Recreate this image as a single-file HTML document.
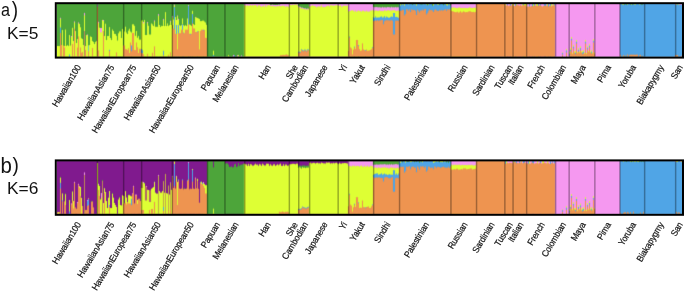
<!DOCTYPE html>
<html><head><meta charset="utf-8"><style>
html,body{margin:0;padding:0;background:#fff;width:685px;height:291px;overflow:hidden;}
svg{display:block;font-family:"Liberation Sans",sans-serif;}
text{-webkit-font-smoothing:antialiased;}
svg{will-change:transform;}
</style></head><body>
<svg width="685" height="291" viewBox="0 0 685 291" >
<g id="ba"><g fill="#50a5e6">
<rect x="399" y="3.9" width="1" height="52.8"/>
<rect x="403" y="3.9" width="1" height="52.8"/>
<rect x="405" y="3.9" width="3" height="52.8"/>
<rect x="409" y="3.9" width="3" height="52.8"/>
<rect x="413" y="3.9" width="1" height="52.8"/>
<rect x="415" y="3.9" width="1" height="52.8"/>
<rect x="417" y="3.9" width="3" height="52.8"/>
<rect x="424" y="3.9" width="2" height="52.8"/>
<rect x="429" y="3.9" width="3" height="52.8"/>
<rect x="434" y="3.9" width="3" height="52.8"/>
<rect x="440" y="3.9" width="3" height="52.8"/>
<rect x="444" y="3.9" width="2" height="52.8"/>
<rect x="448" y="3.9" width="1" height="52.8"/>
<rect x="507" y="3.9" width="1" height="52.8"/>
<rect x="510" y="3.9" width="1" height="52.8"/>
<rect x="515" y="3.9" width="1" height="52.8"/>
<rect x="523" y="3.9" width="1" height="52.8"/>
<rect x="529" y="3.9" width="1" height="52.8"/>
<rect x="532" y="3.9" width="1" height="52.8"/>
<rect x="534" y="3.9" width="1" height="52.8"/>
<rect x="538" y="3.9" width="1" height="52.8"/>
<rect x="540" y="3.9" width="1" height="52.8"/>
<rect x="544" y="3.9" width="2" height="52.8"/>
<rect x="548" y="3.9" width="1" height="52.8"/>
<rect x="550" y="3.9" width="1" height="52.8"/>
<rect x="554" y="3.9" width="1" height="52.8"/>
<rect x="620" y="3.9" width="2" height="52.8"/>
<rect x="625" y="3.9" width="1" height="52.8"/>
<rect x="628" y="3.9" width="2" height="52.8"/>
<rect x="633" y="3.9" width="1" height="52.8"/>
<rect x="636" y="3.9" width="3" height="52.8"/>
<rect x="640" y="3.9" width="1" height="52.8"/>
<rect x="643" y="3.9" width="32" height="52.8"/>
<rect x="677" y="3.9" width="1" height="52.8"/>
</g>
<g fill="#4da53a">
<rect x="57" y="3.9" width="40" height="52.8"/>
<rect x="98" y="3.9" width="146" height="52.8"/>
<rect x="270" y="3.9" width="10" height="52.8"/>
<rect x="298" y="3.9" width="11" height="52.8"/>
<rect x="373" y="3.9" width="26" height="52.8"/>
<rect x="401" y="3.9" width="1" height="52.8"/>
<rect x="412" y="3.9" width="1" height="52.8"/>
<rect x="420" y="3.9" width="3" height="52.8"/>
<rect x="427" y="3.9" width="1" height="52.8"/>
<rect x="432" y="3.9" width="1" height="52.8"/>
<rect x="439" y="3.9" width="1" height="52.8"/>
<rect x="443" y="3.9" width="1" height="52.8"/>
<rect x="450" y="3.9" width="1" height="52.8"/>
<rect x="624" y="3.9" width="1" height="52.8"/>
<rect x="626" y="3.9" width="1" height="52.8"/>
<rect x="630" y="3.9" width="1" height="52.8"/>
<rect x="632" y="3.9" width="1" height="52.8"/>
<rect x="641" y="3.9" width="2" height="52.8"/>
</g>
<g fill="#ee9450">
<rect x="476" y="3.9" width="29" height="52.8"/>
</g>
<g fill="#f598f0">
<rect x="244" y="3.9" width="26" height="52.8"/>
<rect x="280" y="3.9" width="18" height="52.8"/>
<rect x="309" y="3.9" width="64" height="52.8"/>
<rect x="451" y="3.9" width="25" height="52.8"/>
<rect x="506" y="3.9" width="1" height="52.8"/>
<rect x="508" y="3.9" width="2" height="52.8"/>
<rect x="511" y="3.9" width="1" height="52.8"/>
<rect x="514" y="3.9" width="1" height="52.8"/>
<rect x="517" y="3.9" width="5" height="52.8"/>
<rect x="527" y="3.9" width="2" height="52.8"/>
<rect x="530" y="3.9" width="2" height="52.8"/>
<rect x="535" y="3.9" width="1" height="52.8"/>
<rect x="539" y="3.9" width="1" height="52.8"/>
<rect x="541" y="3.9" width="3" height="52.8"/>
<rect x="546" y="3.9" width="1" height="52.8"/>
<rect x="549" y="3.9" width="1" height="52.8"/>
<rect x="552" y="3.9" width="1" height="52.8"/>
<rect x="555" y="3.9" width="65" height="52.8"/>
<rect x="675" y="3.9" width="1" height="52.8"/>
<rect x="679" y="3.9" width="3" height="52.8"/>
</g>
<g fill="#b77fc0">
<rect x="97" y="3.9" width="1" height="52.8"/>
</g>
<g fill="#deff34">
<rect x="400" y="3.9" width="1" height="52.8"/>
<rect x="402" y="3.9" width="1" height="52.8"/>
<rect x="404" y="3.9" width="1" height="52.8"/>
<rect x="408" y="3.9" width="1" height="52.8"/>
<rect x="414" y="3.9" width="1" height="52.8"/>
<rect x="416" y="3.9" width="1" height="52.8"/>
<rect x="423" y="3.9" width="1" height="52.8"/>
<rect x="426" y="3.9" width="1" height="52.8"/>
<rect x="428" y="3.9" width="1" height="52.8"/>
<rect x="433" y="3.9" width="1" height="52.8"/>
<rect x="437" y="3.9" width="2" height="52.8"/>
<rect x="446" y="3.9" width="2" height="52.8"/>
<rect x="449" y="3.9" width="1" height="52.8"/>
<rect x="505" y="3.9" width="1" height="52.8"/>
<rect x="512" y="3.9" width="2" height="52.8"/>
<rect x="516" y="3.9" width="1" height="52.8"/>
<rect x="522" y="3.9" width="1" height="52.8"/>
<rect x="524" y="3.9" width="3" height="52.8"/>
<rect x="533" y="3.9" width="1" height="52.8"/>
<rect x="536" y="3.9" width="2" height="52.8"/>
<rect x="547" y="3.9" width="1" height="52.8"/>
<rect x="551" y="3.9" width="1" height="52.8"/>
<rect x="553" y="3.9" width="1" height="52.8"/>
<rect x="622" y="3.9" width="2" height="52.8"/>
<rect x="627" y="3.9" width="1" height="52.8"/>
<rect x="631" y="3.9" width="1" height="52.8"/>
<rect x="634" y="3.9" width="2" height="52.8"/>
<rect x="639" y="3.9" width="1" height="52.8"/>
<rect x="676" y="3.9" width="1" height="52.8"/>
<rect x="678" y="3.9" width="1" height="52.8"/>
</g>
<g fill="#50a5e6">
<rect x="422" y="4.2" width="1" height="52.5"/>
<rect x="440" y="4.2" width="1" height="52.5"/>
<rect x="448" y="4.2" width="1" height="52.5"/>
<rect x="414" y="4.3" width="1" height="52.4"/>
<rect x="420" y="4.3" width="1" height="52.4"/>
<rect x="423" y="4.3" width="1" height="52.4"/>
<rect x="441" y="4.3" width="1" height="52.4"/>
<rect x="401" y="4.4" width="1" height="52.3"/>
<rect x="415" y="4.4" width="1" height="52.3"/>
<rect x="417" y="4.4" width="1" height="52.3"/>
<rect x="403" y="4.5" width="1" height="52.2"/>
<rect x="408" y="4.5" width="1" height="52.2"/>
<rect x="410" y="4.5" width="1" height="52.2"/>
<rect x="421" y="4.5" width="1" height="52.2"/>
<rect x="430" y="4.5" width="2" height="52.2"/>
<rect x="444" y="4.5" width="1" height="52.2"/>
<rect x="426" y="4.6" width="1" height="52.1"/>
<rect x="428" y="4.6" width="1" height="52.1"/>
<rect x="434" y="4.6" width="1" height="52.1"/>
<rect x="449" y="4.6" width="1" height="52.1"/>
<rect x="620" y="4.6" width="24" height="52.1"/>
<rect x="402" y="4.7" width="1" height="52"/>
<rect x="429" y="4.7" width="1" height="52"/>
<rect x="437" y="4.7" width="2" height="52"/>
<rect x="411" y="4.8" width="1" height="51.9"/>
<rect x="439" y="4.8" width="1" height="51.9"/>
<rect x="445" y="4.8" width="1" height="51.9"/>
<rect x="675" y="4.8" width="7" height="51.9"/>
<rect x="409" y="4.9" width="1" height="51.8"/>
<rect x="412" y="4.9" width="1" height="51.8"/>
<rect x="413" y="5" width="1" height="51.7"/>
<rect x="419" y="5.1" width="1" height="51.6"/>
<rect x="436" y="5.1" width="1" height="51.6"/>
<rect x="446" y="5.1" width="1" height="51.6"/>
<rect x="405" y="5.2" width="1" height="51.5"/>
<rect x="418" y="5.3" width="1" height="51.4"/>
<rect x="427" y="5.3" width="1" height="51.4"/>
<rect x="442" y="5.3" width="2" height="51.4"/>
<rect x="433" y="5.4" width="1" height="51.3"/>
<rect x="450" y="5.4" width="1" height="51.3"/>
<rect x="435" y="5.5" width="1" height="51.2"/>
<rect x="400" y="5.6" width="1" height="51.1"/>
<rect x="404" y="5.6" width="1" height="51.1"/>
<rect x="406" y="5.6" width="1" height="51.1"/>
<rect x="416" y="5.6" width="1" height="51.1"/>
<rect x="424" y="5.6" width="1" height="51.1"/>
<rect x="447" y="5.6" width="1" height="51.1"/>
<rect x="399" y="5.7" width="1" height="51"/>
<rect x="407" y="5.7" width="1" height="51"/>
<rect x="425" y="5.8" width="1" height="50.9"/>
<rect x="432" y="5.8" width="1" height="50.9"/>
<rect x="234" y="55.3" width="1" height="1.4"/>
</g>
<g fill="#ee9450">
<rect x="525" y="4.9" width="1" height="51.8"/>
<rect x="507" y="5" width="1" height="51.7"/>
<rect x="512" y="5" width="1" height="51.7"/>
<rect x="516" y="5" width="1" height="51.7"/>
<rect x="520" y="5" width="1" height="51.7"/>
<rect x="523" y="5" width="1" height="51.7"/>
<rect x="517" y="5.2" width="2" height="51.5"/>
<rect x="524" y="5.3" width="1" height="51.4"/>
<rect x="540" y="5.3" width="1" height="51.4"/>
<rect x="554" y="5.3" width="1" height="51.4"/>
<rect x="505" y="5.4" width="1" height="51.3"/>
<rect x="539" y="5.4" width="1" height="51.3"/>
<rect x="553" y="5.4" width="1" height="51.3"/>
<rect x="509" y="5.5" width="1" height="51.2"/>
<rect x="511" y="5.5" width="1" height="51.2"/>
<rect x="534" y="5.5" width="1" height="51.2"/>
<rect x="506" y="5.6" width="1" height="51.1"/>
<rect x="522" y="5.6" width="1" height="51.1"/>
<rect x="536" y="5.6" width="1" height="51.1"/>
<rect x="544" y="5.6" width="1" height="51.1"/>
<rect x="547" y="5.6" width="1" height="51.1"/>
<rect x="552" y="5.6" width="1" height="51.1"/>
<rect x="510" y="5.7" width="1" height="51"/>
<rect x="515" y="5.7" width="1" height="51"/>
<rect x="535" y="5.7" width="1" height="51"/>
<rect x="538" y="5.7" width="1" height="51"/>
<rect x="545" y="5.7" width="2" height="51"/>
<rect x="519" y="5.8" width="1" height="50.9"/>
<rect x="537" y="5.8" width="1" height="50.9"/>
<rect x="549" y="5.8" width="2" height="50.9"/>
<rect x="513" y="5.9" width="1" height="50.8"/>
<rect x="521" y="5.9" width="1" height="50.8"/>
<rect x="531" y="5.9" width="1" height="50.8"/>
<rect x="543" y="5.9" width="1" height="50.8"/>
<rect x="533" y="6" width="1" height="50.7"/>
<rect x="508" y="6.1" width="1" height="50.6"/>
<rect x="514" y="6.1" width="1" height="50.6"/>
<rect x="541" y="6.1" width="1" height="50.6"/>
<rect x="532" y="6.2" width="1" height="50.5"/>
<rect x="529" y="6.4" width="1" height="50.3"/>
<rect x="551" y="6.4" width="1" height="50.3"/>
<rect x="526" y="6.5" width="1" height="50.2"/>
<rect x="527" y="6.6" width="1" height="50.1"/>
<rect x="548" y="6.6" width="1" height="50.1"/>
<rect x="528" y="6.7" width="1" height="50"/>
<rect x="530" y="6.7" width="1" height="50"/>
<rect x="542" y="6.7" width="1" height="50"/>
<rect x="97" y="6.8" width="1" height="49.9"/>
<rect x="61" y="45" width="1" height="11.7"/>
<rect x="123" y="45.4" width="1" height="11.3"/>
<rect x="63" y="45.5" width="1" height="11.2"/>
</g>
<g fill="#f598f0">
<rect x="272" y="4.4" width="1" height="52.3"/>
<rect x="278" y="4.4" width="1" height="52.3"/>
<rect x="174" y="4.5" width="1" height="52.2"/>
<rect x="279" y="4.7" width="1" height="52"/>
<rect x="271" y="4.8" width="1" height="51.9"/>
<rect x="273" y="4.8" width="2" height="51.9"/>
<rect x="276" y="4.8" width="1" height="51.9"/>
<rect x="275" y="4.9" width="1" height="51.8"/>
<rect x="277" y="4.9" width="1" height="51.8"/>
<rect x="188" y="5" width="1" height="51.7"/>
<rect x="270" y="5" width="1" height="51.7"/>
<rect x="298" y="6.2" width="1" height="50.5"/>
<rect x="299" y="6.5" width="1" height="50.2"/>
<rect x="391" y="6.8" width="1" height="49.9"/>
<rect x="300" y="6.9" width="1" height="49.8"/>
<rect x="382" y="6.9" width="1" height="49.8"/>
<rect x="373" y="7" width="1" height="49.7"/>
<rect x="376" y="7" width="1" height="49.7"/>
<rect x="387" y="7" width="1" height="49.7"/>
<rect x="395" y="7" width="1" height="49.7"/>
<rect x="375" y="7.1" width="1" height="49.6"/>
<rect x="388" y="7.1" width="1" height="49.6"/>
<rect x="374" y="7.2" width="1" height="49.5"/>
<rect x="377" y="7.2" width="1" height="49.5"/>
<rect x="379" y="7.2" width="1" height="49.5"/>
<rect x="384" y="7.2" width="1" height="49.5"/>
<rect x="389" y="7.2" width="1" height="49.5"/>
<rect x="393" y="7.2" width="1" height="49.5"/>
<rect x="397" y="7.2" width="2" height="49.5"/>
<rect x="378" y="7.3" width="1" height="49.4"/>
<rect x="385" y="7.3" width="1" height="49.4"/>
<rect x="380" y="7.4" width="1" height="49.3"/>
<rect x="392" y="7.4" width="1" height="49.3"/>
<rect x="394" y="7.4" width="1" height="49.3"/>
<rect x="396" y="7.4" width="1" height="49.3"/>
<rect x="302" y="7.5" width="1" height="49.2"/>
<rect x="383" y="7.5" width="1" height="49.2"/>
<rect x="386" y="7.5" width="1" height="49.2"/>
<rect x="390" y="7.5" width="1" height="49.2"/>
<rect x="381" y="7.6" width="1" height="49.1"/>
<rect x="301" y="7.7" width="1" height="49"/>
<rect x="303" y="8.1" width="1" height="48.6"/>
<rect x="305" y="8.2" width="1" height="48.5"/>
<rect x="304" y="8.4" width="1" height="48.3"/>
<rect x="307" y="8.4" width="1" height="48.3"/>
<rect x="308" y="8.7" width="1" height="48"/>
<rect x="306" y="8.9" width="1" height="47.8"/>
<rect x="84" y="12.9" width="1" height="43.8"/>
<rect x="158" y="14.1" width="1" height="42.6"/>
<rect x="177" y="15.5" width="1" height="41.2"/>
<rect x="172" y="15.9" width="1" height="40.8"/>
<rect x="195" y="17" width="1" height="39.7"/>
<rect x="60" y="17.8" width="1" height="38.9"/>
<rect x="163" y="18.9" width="1" height="37.8"/>
<rect x="178" y="18.9" width="1" height="37.8"/>
<rect x="103" y="20" width="1" height="36.7"/>
<rect x="154" y="20.4" width="1" height="36.3"/>
<rect x="170" y="20.7" width="1" height="36"/>
<rect x="74" y="21.4" width="1" height="35.3"/>
<rect x="98" y="21.8" width="1" height="34.9"/>
<rect x="143" y="22" width="1" height="34.7"/>
<rect x="147" y="22" width="1" height="34.7"/>
<rect x="78" y="22.4" width="1" height="34.3"/>
<rect x="100" y="28" width="2" height="28.7"/>
<rect x="87" y="34.5" width="1" height="22.2"/>
<rect x="71" y="36" width="1" height="20.7"/>
<rect x="233" y="55" width="1" height="1.7"/>
<rect x="237" y="55.2" width="1" height="1.5"/>
<rect x="241" y="55.4" width="1" height="1.3"/>
</g>
<g fill="#7fc7b0">
<rect x="88" y="45.4" width="1" height="11.3"/>
</g>
<g fill="#deff34">
<rect x="292" y="4.4" width="1" height="52.3"/>
<rect x="295" y="4.5" width="2" height="52.2"/>
<rect x="294" y="4.6" width="1" height="52.1"/>
<rect x="289" y="4.7" width="1" height="52"/>
<rect x="250" y="4.9" width="1" height="51.8"/>
<rect x="252" y="4.9" width="1" height="51.8"/>
<rect x="265" y="4.9" width="1" height="51.8"/>
<rect x="290" y="4.9" width="1" height="51.8"/>
<rect x="247" y="5" width="1" height="51.7"/>
<rect x="254" y="5" width="2" height="51.7"/>
<rect x="293" y="5" width="1" height="51.7"/>
<rect x="245" y="5.1" width="1" height="51.6"/>
<rect x="258" y="5.1" width="1" height="51.6"/>
<rect x="268" y="5.1" width="2" height="51.6"/>
<rect x="291" y="5.2" width="1" height="51.5"/>
<rect x="312" y="5.2" width="1" height="51.5"/>
<rect x="336" y="5.2" width="1" height="51.5"/>
<rect x="259" y="5.3" width="1" height="51.4"/>
<rect x="297" y="5.3" width="1" height="51.4"/>
<rect x="321" y="5.3" width="1" height="51.4"/>
<rect x="330" y="5.3" width="2" height="51.4"/>
<rect x="335" y="5.3" width="1" height="51.4"/>
<rect x="340" y="5.3" width="1" height="51.4"/>
<rect x="267" y="5.4" width="1" height="51.3"/>
<rect x="328" y="5.4" width="1" height="51.3"/>
<rect x="338" y="5.4" width="1" height="51.3"/>
<rect x="347" y="5.4" width="1" height="51.3"/>
<rect x="244" y="5.5" width="1" height="51.2"/>
<rect x="282" y="5.5" width="1" height="51.2"/>
<rect x="337" y="5.5" width="1" height="51.2"/>
<rect x="343" y="5.5" width="1" height="51.2"/>
<rect x="249" y="5.6" width="1" height="51.1"/>
<rect x="333" y="5.6" width="1" height="51.1"/>
<rect x="256" y="5.7" width="1" height="51"/>
<rect x="263" y="5.7" width="1" height="51"/>
<rect x="332" y="5.7" width="1" height="51"/>
<rect x="344" y="5.7" width="1" height="51"/>
<rect x="253" y="5.8" width="1" height="50.9"/>
<rect x="284" y="5.8" width="1" height="50.9"/>
<rect x="311" y="5.8" width="1" height="50.9"/>
<rect x="251" y="5.9" width="1" height="50.8"/>
<rect x="334" y="5.9" width="1" height="50.8"/>
<rect x="339" y="5.9" width="1" height="50.8"/>
<rect x="345" y="5.9" width="2" height="50.8"/>
<rect x="248" y="6" width="1" height="50.7"/>
<rect x="314" y="6" width="1" height="50.7"/>
<rect x="262" y="6.1" width="1" height="50.6"/>
<rect x="281" y="6.1" width="1" height="50.6"/>
<rect x="283" y="6.1" width="1" height="50.6"/>
<rect x="313" y="6.1" width="1" height="50.6"/>
<rect x="326" y="6.1" width="2" height="50.6"/>
<rect x="246" y="6.2" width="1" height="50.5"/>
<rect x="260" y="6.2" width="1" height="50.5"/>
<rect x="280" y="6.3" width="1" height="50.4"/>
<rect x="286" y="6.3" width="2" height="50.4"/>
<rect x="309" y="6.3" width="1" height="50.4"/>
<rect x="318" y="6.3" width="1" height="50.4"/>
<rect x="315" y="6.4" width="1" height="50.3"/>
<rect x="342" y="6.4" width="1" height="50.3"/>
<rect x="310" y="6.5" width="1" height="50.2"/>
<rect x="257" y="6.6" width="1" height="50.1"/>
<rect x="319" y="6.6" width="1" height="50.1"/>
<rect x="329" y="6.6" width="1" height="50.1"/>
<rect x="266" y="6.7" width="1" height="50"/>
<rect x="317" y="6.7" width="1" height="50"/>
<rect x="320" y="6.7" width="1" height="50"/>
<rect x="261" y="6.9" width="1" height="49.8"/>
<rect x="264" y="6.9" width="1" height="49.8"/>
<rect x="285" y="6.9" width="1" height="49.8"/>
<rect x="323" y="6.9" width="1" height="49.8"/>
<rect x="341" y="6.9" width="1" height="49.8"/>
<rect x="288" y="7" width="1" height="49.7"/>
<rect x="325" y="7" width="1" height="49.7"/>
<rect x="324" y="7.1" width="1" height="49.6"/>
<rect x="322" y="7.2" width="1" height="49.5"/>
<rect x="316" y="7.3" width="1" height="49.4"/>
<rect x="453" y="7.3" width="1" height="49.4"/>
<rect x="469" y="7.3" width="1" height="49.4"/>
<rect x="474" y="7.3" width="1" height="49.4"/>
<rect x="459" y="7.4" width="1" height="49.3"/>
<rect x="454" y="7.5" width="1" height="49.2"/>
<rect x="451" y="7.6" width="1" height="49.1"/>
<rect x="458" y="7.6" width="1" height="49.1"/>
<rect x="452" y="7.7" width="1" height="49"/>
<rect x="470" y="7.7" width="1" height="49"/>
<rect x="455" y="7.8" width="1" height="48.9"/>
<rect x="464" y="7.8" width="1" height="48.9"/>
<rect x="460" y="7.9" width="1" height="48.8"/>
<rect x="462" y="7.9" width="1" height="48.8"/>
<rect x="472" y="7.9" width="1" height="48.8"/>
<rect x="456" y="8" width="1" height="48.7"/>
<rect x="468" y="8" width="1" height="48.7"/>
<rect x="473" y="8" width="1" height="48.7"/>
<rect x="475" y="8" width="1" height="48.7"/>
<rect x="461" y="8.1" width="1" height="48.6"/>
<rect x="463" y="8.1" width="1" height="48.6"/>
<rect x="465" y="8.1" width="2" height="48.6"/>
<rect x="471" y="8.1" width="1" height="48.6"/>
<rect x="457" y="8.2" width="1" height="48.5"/>
<rect x="467" y="8.2" width="1" height="48.5"/>
<rect x="372" y="10.2" width="1" height="46.5"/>
<rect x="351" y="10.3" width="2" height="46.4"/>
<rect x="355" y="10.4" width="1" height="46.3"/>
<rect x="358" y="10.4" width="1" height="46.3"/>
<rect x="370" y="10.5" width="1" height="46.2"/>
<rect x="362" y="10.6" width="1" height="46.1"/>
<rect x="353" y="10.7" width="1" height="46"/>
<rect x="366" y="10.7" width="1" height="46"/>
<rect x="371" y="10.7" width="1" height="46"/>
<rect x="192" y="10.8" width="1" height="45.9"/>
<rect x="363" y="10.8" width="1" height="45.9"/>
<rect x="349" y="10.9" width="1" height="45.8"/>
<rect x="350" y="11" width="1" height="45.7"/>
<rect x="357" y="11.1" width="1" height="45.6"/>
<rect x="359" y="11.1" width="2" height="45.6"/>
<rect x="364" y="11.5" width="2" height="45.2"/>
<rect x="348" y="11.6" width="1" height="45.1"/>
<rect x="354" y="11.6" width="1" height="45.1"/>
<rect x="367" y="11.6" width="3" height="45.1"/>
<rect x="361" y="11.7" width="1" height="45"/>
<rect x="356" y="11.8" width="1" height="44.9"/>
<rect x="165" y="12.1" width="1" height="44.6"/>
<rect x="175" y="17" width="1" height="39.7"/>
<rect x="196" y="17.5" width="1" height="39.2"/>
<rect x="197" y="18" width="1" height="38.7"/>
<rect x="182" y="18.4" width="1" height="38.3"/>
<rect x="187" y="18.4" width="1" height="38.3"/>
<rect x="198" y="18.4" width="1" height="38.3"/>
<rect x="199" y="19" width="1" height="37.7"/>
<rect x="173" y="19.5" width="1" height="37.2"/>
<rect x="102" y="19.9" width="1" height="36.8"/>
<rect x="144" y="20" width="1" height="36.7"/>
<rect x="176" y="20" width="1" height="36.7"/>
<rect x="142" y="20.4" width="1" height="36.3"/>
<rect x="141" y="20.5" width="1" height="36.2"/>
<rect x="202" y="20.6" width="2" height="36.1"/>
<rect x="200" y="21.1" width="2" height="35.6"/>
<rect x="204" y="21.5" width="1" height="35.2"/>
<rect x="205" y="22.5" width="1" height="34.2"/>
<rect x="151" y="23.4" width="1" height="33.3"/>
<rect x="167" y="23.4" width="1" height="33.3"/>
<rect x="105" y="23.7" width="1" height="33"/>
<rect x="79" y="23.9" width="1" height="32.8"/>
<rect x="193" y="24" width="1" height="32.7"/>
<rect x="132" y="24.3" width="2" height="32.4"/>
<rect x="152" y="24.4" width="1" height="32.3"/>
<rect x="189" y="24.4" width="1" height="32.3"/>
<rect x="206" y="24.8" width="1" height="31.9"/>
<rect x="159" y="25" width="1" height="31.7"/>
<rect x="169" y="25" width="1" height="31.7"/>
<rect x="171" y="25" width="1" height="31.7"/>
<rect x="179" y="25" width="1" height="31.7"/>
<rect x="181" y="25" width="1" height="31.7"/>
<rect x="183" y="25" width="1" height="31.7"/>
<rect x="185" y="25" width="1" height="31.7"/>
<rect x="190" y="25" width="1" height="31.7"/>
<rect x="194" y="25" width="1" height="31.7"/>
<rect x="134" y="25.8" width="1" height="30.9"/>
<rect x="148" y="25.8" width="1" height="30.9"/>
<rect x="161" y="25.8" width="1" height="30.9"/>
<rect x="153" y="26" width="1" height="30.7"/>
<rect x="162" y="26" width="1" height="30.7"/>
<rect x="164" y="26" width="1" height="30.7"/>
<rect x="166" y="26" width="1" height="30.7"/>
<rect x="168" y="26" width="1" height="30.7"/>
<rect x="180" y="26" width="1" height="30.7"/>
<rect x="184" y="26" width="1" height="30.7"/>
<rect x="186" y="26" width="1" height="30.7"/>
<rect x="191" y="26" width="1" height="30.7"/>
<rect x="125" y="26.7" width="1" height="30"/>
<rect x="155" y="26.8" width="3" height="29.9"/>
<rect x="160" y="27" width="1" height="29.7"/>
<rect x="109" y="27.1" width="1" height="29.6"/>
<rect x="80" y="27.3" width="1" height="29.4"/>
<rect x="99" y="27.6" width="1" height="29.1"/>
<rect x="72" y="27.8" width="1" height="28.9"/>
<rect x="129" y="28.7" width="1" height="28"/>
<rect x="122" y="29" width="1" height="27.7"/>
<rect x="65" y="29.5" width="1" height="27.2"/>
<rect x="112" y="29.5" width="1" height="27.2"/>
<rect x="62" y="30" width="1" height="26.7"/>
<rect x="128" y="30.6" width="1" height="26.1"/>
<rect x="75" y="31" width="1" height="25.7"/>
<rect x="113" y="31" width="1" height="25.7"/>
<rect x="136" y="31" width="1" height="25.7"/>
<rect x="119" y="31.4" width="2" height="25.3"/>
<rect x="124" y="31.5" width="1" height="25.2"/>
<rect x="130" y="31.5" width="1" height="25.2"/>
<rect x="126" y="32.5" width="1" height="24.2"/>
<rect x="131" y="32.5" width="1" height="24.2"/>
<rect x="118" y="33.3" width="1" height="23.4"/>
<rect x="114" y="33.8" width="1" height="22.9"/>
<rect x="115" y="34" width="1" height="22.7"/>
<rect x="127" y="34" width="1" height="22.7"/>
<rect x="149" y="34.5" width="2" height="22.2"/>
<rect x="69" y="35" width="1" height="21.7"/>
<rect x="86" y="35" width="1" height="21.7"/>
<rect x="145" y="35" width="2" height="21.7"/>
<rect x="116" y="35.8" width="1" height="20.9"/>
<rect x="135" y="35.8" width="1" height="20.9"/>
<rect x="138" y="35.9" width="1" height="20.8"/>
<rect x="104" y="36" width="1" height="20.7"/>
<rect x="107" y="36" width="2" height="20.7"/>
<rect x="90" y="36.4" width="1" height="20.3"/>
<rect x="91" y="37" width="1" height="19.7"/>
<rect x="571" y="37" width="1" height="19.7"/>
<rect x="137" y="37.7" width="1" height="19"/>
<rect x="110" y="38" width="1" height="18.7"/>
<rect x="121" y="38" width="1" height="18.7"/>
<rect x="81" y="38.2" width="1" height="18.5"/>
<rect x="77" y="39" width="1" height="17.7"/>
<rect x="82" y="39" width="1" height="17.7"/>
<rect x="593" y="39" width="1" height="17.7"/>
<rect x="139" y="39.6" width="2" height="17.1"/>
<rect x="106" y="40" width="1" height="16.7"/>
<rect x="111" y="40" width="1" height="16.7"/>
<rect x="576" y="40" width="1" height="16.7"/>
<rect x="585" y="40" width="1" height="16.7"/>
<rect x="117" y="40.5" width="1" height="16.2"/>
<rect x="73" y="41" width="1" height="15.7"/>
<rect x="92" y="41" width="1" height="15.7"/>
<rect x="96" y="41" width="1" height="15.7"/>
<rect x="93" y="42" width="1" height="14.7"/>
<rect x="95" y="42" width="1" height="14.7"/>
<rect x="76" y="43" width="1" height="13.7"/>
<rect x="589" y="43.9" width="1" height="12.8"/>
<rect x="94" y="44" width="1" height="12.7"/>
<rect x="573" y="44.9" width="1" height="11.8"/>
<rect x="67" y="45" width="1" height="11.7"/>
<rect x="83" y="45" width="1" height="11.7"/>
<rect x="89" y="45" width="1" height="11.7"/>
<rect x="70" y="45.5" width="1" height="11.2"/>
<rect x="587" y="45.9" width="1" height="10.8"/>
<rect x="57" y="46" width="3" height="10.7"/>
<rect x="64" y="46" width="1" height="10.7"/>
<rect x="66" y="46" width="1" height="10.7"/>
<rect x="68" y="46" width="1" height="10.7"/>
<rect x="85" y="46" width="1" height="10.7"/>
<rect x="580" y="46.4" width="1" height="10.3"/>
<rect x="570" y="47.9" width="1" height="8.8"/>
<rect x="578" y="48" width="1" height="8.7"/>
<rect x="566" y="48.9" width="1" height="7.8"/>
<rect x="583" y="49.9" width="1" height="6.8"/>
<rect x="591" y="49.9" width="1" height="6.8"/>
<rect x="213" y="50.7" width="1" height="6"/>
<rect x="575" y="50.8" width="1" height="5.9"/>
<rect x="582" y="50.8" width="1" height="5.9"/>
<rect x="588" y="50.9" width="1" height="5.8"/>
<rect x="581" y="51.3" width="1" height="5.4"/>
<rect x="574" y="51.5" width="1" height="5.2"/>
<rect x="579" y="51.6" width="1" height="5.1"/>
<rect x="590" y="51.6" width="1" height="5.1"/>
<rect x="569" y="51.8" width="1" height="4.9"/>
<rect x="577" y="52.1" width="1" height="4.6"/>
<rect x="562" y="52.3" width="1" height="4.4"/>
<rect x="592" y="52.4" width="1" height="4.3"/>
<rect x="594" y="52.5" width="1" height="4.2"/>
<rect x="584" y="52.6" width="1" height="4.1"/>
<rect x="572" y="52.8" width="1" height="3.9"/>
<rect x="586" y="52.9" width="1" height="3.8"/>
<rect x="238" y="55" width="1" height="1.7"/>
<rect x="228" y="55.2" width="1" height="1.5"/>
</g>
<g fill="#50a5e6">
<rect x="188" y="6" width="1" height="50.7"/>
<rect x="192" y="14" width="1" height="42.7"/>
<rect x="182" y="24.4" width="1" height="32.3"/>
<rect x="176" y="25" width="1" height="31.7"/>
<rect x="203" y="29.7" width="1" height="27"/>
<rect x="197" y="31.4" width="1" height="25.3"/>
<rect x="183" y="32.6" width="1" height="24.1"/>
<rect x="190" y="33.8" width="1" height="22.9"/>
<rect x="349" y="36.6" width="1" height="20.1"/>
<rect x="571" y="38.8" width="1" height="17.9"/>
<rect x="593" y="40.8" width="1" height="15.9"/>
<rect x="576" y="41.8" width="1" height="14.9"/>
<rect x="585" y="41.8" width="1" height="14.9"/>
<rect x="358" y="45.1" width="1" height="11.6"/>
<rect x="131" y="45.4" width="1" height="11.3"/>
<rect x="589" y="45.7" width="1" height="11"/>
<rect x="354" y="46.6" width="1" height="10.1"/>
<rect x="573" y="46.7" width="1" height="10"/>
<rect x="372" y="47.2" width="1" height="9.5"/>
<rect x="587" y="47.7" width="1" height="9"/>
<rect x="580" y="48.2" width="1" height="8.5"/>
<rect x="141" y="49" width="1" height="7.7"/>
<rect x="570" y="49.7" width="1" height="7"/>
<rect x="578" y="49.8" width="1" height="6.9"/>
<rect x="109" y="49.9" width="1" height="6.8"/>
<rect x="365" y="50.2" width="1" height="6.5"/>
<rect x="142" y="50.3" width="1" height="6.4"/>
<rect x="566" y="50.5" width="1" height="6.2"/>
<rect x="583" y="51.7" width="1" height="5"/>
<rect x="591" y="51.7" width="1" height="5"/>
<rect x="575" y="52.6" width="1" height="4.1"/>
<rect x="582" y="52.6" width="1" height="4.1"/>
<rect x="562" y="53" width="1" height="3.7"/>
<rect x="569" y="53.6" width="1" height="3.1"/>
<rect x="69" y="54.5" width="1" height="2.2"/>
<rect x="213" y="55" width="1" height="1.7"/>
</g>
<g fill="#ee9450">
<rect x="425" y="9" width="1" height="47.7"/>
<rect x="445" y="9" width="1" height="47.7"/>
<rect x="424" y="9.1" width="1" height="47.6"/>
<rect x="447" y="9.1" width="1" height="47.6"/>
<rect x="411" y="9.2" width="1" height="47.5"/>
<rect x="435" y="9.2" width="1" height="47.5"/>
<rect x="449" y="9.2" width="1" height="47.5"/>
<rect x="406" y="9.3" width="1" height="47.4"/>
<rect x="409" y="9.3" width="1" height="47.4"/>
<rect x="407" y="9.4" width="1" height="47.3"/>
<rect x="429" y="9.4" width="1" height="47.3"/>
<rect x="417" y="9.5" width="1" height="47.2"/>
<rect x="422" y="9.5" width="1" height="47.2"/>
<rect x="450" y="9.5" width="1" height="47.2"/>
<rect x="448" y="9.7" width="1" height="47"/>
<rect x="402" y="9.8" width="1" height="46.9"/>
<rect x="413" y="9.8" width="1" height="46.9"/>
<rect x="439" y="9.8" width="1" height="46.9"/>
<rect x="403" y="9.9" width="1" height="46.8"/>
<rect x="441" y="9.9" width="1" height="46.8"/>
<rect x="444" y="9.9" width="1" height="46.8"/>
<rect x="414" y="10" width="1" height="46.7"/>
<rect x="431" y="10" width="1" height="46.7"/>
<rect x="434" y="10" width="1" height="46.7"/>
<rect x="412" y="10.1" width="1" height="46.6"/>
<rect x="430" y="10.1" width="1" height="46.6"/>
<rect x="443" y="10.2" width="1" height="46.5"/>
<rect x="436" y="10.3" width="1" height="46.4"/>
<rect x="420" y="10.4" width="1" height="46.3"/>
<rect x="421" y="10.6" width="1" height="46.1"/>
<rect x="423" y="10.6" width="1" height="46.1"/>
<rect x="432" y="10.6" width="1" height="46.1"/>
<rect x="401" y="10.7" width="1" height="46"/>
<rect x="418" y="10.7" width="1" height="46"/>
<rect x="440" y="10.7" width="1" height="46"/>
<rect x="442" y="10.7" width="1" height="46"/>
<rect x="399" y="10.8" width="2" height="45.9"/>
<rect x="408" y="10.8" width="1" height="45.9"/>
<rect x="415" y="10.9" width="1" height="45.8"/>
<rect x="428" y="10.9" width="1" height="45.8"/>
<rect x="437" y="10.9" width="1" height="45.8"/>
<rect x="446" y="10.9" width="1" height="45.8"/>
<rect x="438" y="11" width="1" height="45.7"/>
<rect x="451" y="11.2" width="2" height="45.5"/>
<rect x="460" y="11.2" width="1" height="45.5"/>
<rect x="463" y="11.3" width="1" height="45.4"/>
<rect x="469" y="11.3" width="2" height="45.4"/>
<rect x="468" y="11.5" width="1" height="45.2"/>
<rect x="453" y="11.6" width="1" height="45.1"/>
<rect x="457" y="11.7" width="1" height="45"/>
<rect x="464" y="11.9" width="1" height="44.8"/>
<rect x="473" y="11.9" width="1" height="44.8"/>
<rect x="475" y="11.9" width="1" height="44.8"/>
<rect x="410" y="12" width="1" height="44.7"/>
<rect x="433" y="12" width="1" height="44.7"/>
<rect x="454" y="12" width="1" height="44.7"/>
<rect x="466" y="12" width="1" height="44.7"/>
<rect x="471" y="12" width="1" height="44.7"/>
<rect x="472" y="12.1" width="1" height="44.6"/>
<rect x="456" y="12.2" width="1" height="44.5"/>
<rect x="467" y="12.2" width="1" height="44.5"/>
<rect x="455" y="12.3" width="1" height="44.4"/>
<rect x="459" y="12.3" width="1" height="44.4"/>
<rect x="462" y="12.3" width="1" height="44.4"/>
<rect x="419" y="12.4" width="1" height="44.3"/>
<rect x="465" y="12.4" width="1" height="44.3"/>
<rect x="474" y="12.4" width="1" height="44.3"/>
<rect x="461" y="12.5" width="1" height="44.2"/>
<rect x="458" y="12.7" width="1" height="44"/>
<rect x="427" y="13" width="1" height="43.7"/>
<rect x="405" y="14" width="1" height="42.7"/>
<rect x="426" y="14.4" width="1" height="42.3"/>
<rect x="416" y="15" width="1" height="41.7"/>
<rect x="404" y="15.4" width="1" height="41.3"/>
<rect x="173" y="28.5" width="1" height="28.2"/>
<rect x="193" y="28.5" width="2" height="28.2"/>
<rect x="181" y="29.7" width="1" height="27"/>
<rect x="185" y="29.7" width="3" height="27"/>
<rect x="201" y="29.7" width="2" height="27"/>
<rect x="204" y="30" width="1" height="26.7"/>
<rect x="198" y="31" width="1" height="25.7"/>
<rect x="200" y="31" width="1" height="25.7"/>
<rect x="196" y="32" width="1" height="24.7"/>
<rect x="132" y="33" width="2" height="23.7"/>
<rect x="179" y="33.2" width="2" height="23.5"/>
<rect x="184" y="33.2" width="1" height="23.5"/>
<rect x="175" y="33.8" width="1" height="22.9"/>
<rect x="189" y="33.8" width="1" height="22.9"/>
<rect x="191" y="33.8" width="1" height="22.9"/>
<rect x="205" y="37.9" width="2" height="18.8"/>
<rect x="356" y="40" width="2" height="16.7"/>
<rect x="130" y="42.5" width="1" height="14.2"/>
<rect x="136" y="42.5" width="1" height="14.2"/>
<rect x="362" y="43.4" width="1" height="13.3"/>
<rect x="72" y="44" width="1" height="12.7"/>
<rect x="124" y="45.4" width="1" height="11.3"/>
<rect x="137" y="47.3" width="1" height="9.4"/>
<rect x="350" y="47.4" width="1" height="9.3"/>
<rect x="64" y="47.5" width="1" height="9.2"/>
<rect x="77" y="47.6" width="1" height="9.1"/>
<rect x="80" y="47.6" width="1" height="9.1"/>
<rect x="92" y="48" width="1" height="8.7"/>
<rect x="128" y="48.3" width="1" height="8.4"/>
<rect x="351" y="48.5" width="1" height="8.2"/>
<rect x="139" y="48.8" width="2" height="7.9"/>
<rect x="355" y="49.1" width="1" height="7.6"/>
<rect x="359" y="49.1" width="1" height="7.6"/>
<rect x="125" y="49.2" width="2" height="7.5"/>
<rect x="371" y="49.2" width="1" height="7.5"/>
<rect x="363" y="49.4" width="1" height="7.3"/>
<rect x="199" y="49.5" width="1" height="7.2"/>
<rect x="366" y="49.5" width="1" height="7.2"/>
<rect x="353" y="49.6" width="1" height="7.1"/>
<rect x="85" y="50" width="1" height="6.7"/>
<rect x="134" y="50" width="1" height="6.7"/>
<rect x="370" y="50" width="1" height="6.7"/>
<rect x="364" y="50.1" width="1" height="6.6"/>
<rect x="127" y="50.2" width="1" height="6.5"/>
<rect x="135" y="50.2" width="1" height="6.5"/>
<rect x="361" y="50.4" width="1" height="6.3"/>
<rect x="369" y="50.4" width="1" height="6.3"/>
<rect x="368" y="50.6" width="1" height="6.1"/>
<rect x="348" y="50.9" width="1" height="5.8"/>
<rect x="360" y="50.9" width="1" height="5.8"/>
<rect x="367" y="50.9" width="1" height="5.8"/>
<rect x="88" y="51.3" width="1" height="5.4"/>
<rect x="82" y="52" width="1" height="4.7"/>
<rect x="588" y="52.1" width="1" height="4.6"/>
<rect x="116" y="52.4" width="1" height="4.3"/>
<rect x="581" y="52.5" width="1" height="4.2"/>
<rect x="574" y="52.7" width="1" height="4"/>
<rect x="81" y="52.8" width="1" height="3.9"/>
<rect x="152" y="52.8" width="1" height="3.9"/>
<rect x="579" y="52.8" width="1" height="3.9"/>
<rect x="590" y="52.8" width="1" height="3.9"/>
<rect x="129" y="53" width="1" height="3.7"/>
<rect x="138" y="53" width="1" height="3.7"/>
<rect x="577" y="53.3" width="1" height="3.4"/>
<rect x="592" y="53.6" width="1" height="3.1"/>
<rect x="594" y="53.7" width="1" height="3"/>
<rect x="584" y="53.8" width="1" height="2.9"/>
<rect x="572" y="54" width="1" height="2.7"/>
<rect x="586" y="54.1" width="1" height="2.6"/>
<rect x="286" y="54.3" width="1" height="2.4"/>
<rect x="627" y="54.3" width="1" height="2.4"/>
<rect x="352" y="54.5" width="1" height="2.2"/>
<rect x="636" y="54.5" width="1" height="2.2"/>
<rect x="631" y="54.6" width="1" height="2.1"/>
<rect x="634" y="54.6" width="1" height="2.1"/>
<rect x="637" y="54.6" width="1" height="2.1"/>
<rect x="630" y="54.7" width="1" height="2"/>
<rect x="632" y="54.7" width="2" height="2"/>
<rect x="168" y="54.8" width="1" height="1.9"/>
<rect x="285" y="54.8" width="1" height="1.9"/>
<rect x="620" y="54.8" width="1" height="1.9"/>
<rect x="640" y="54.8" width="1" height="1.9"/>
<rect x="283" y="54.9" width="1" height="1.8"/>
<rect x="629" y="54.9" width="1" height="1.8"/>
<rect x="635" y="54.9" width="1" height="1.8"/>
<rect x="675" y="54.9" width="1" height="1.8"/>
<rect x="677" y="54.9" width="1" height="1.8"/>
<rect x="282" y="55" width="1" height="1.7"/>
<rect x="287" y="55" width="1" height="1.7"/>
<rect x="623" y="55" width="1" height="1.7"/>
<rect x="280" y="55.1" width="1" height="1.6"/>
<rect x="284" y="55.2" width="1" height="1.5"/>
<rect x="288" y="55.2" width="1" height="1.5"/>
<rect x="281" y="55.3" width="1" height="1.4"/>
<rect x="639" y="55.3" width="1" height="1.4"/>
<rect x="676" y="55.3" width="1" height="1.4"/>
<rect x="625" y="55.4" width="1" height="1.3"/>
<rect x="642" y="55.8" width="1" height="0.9"/>
<rect x="681" y="55.8" width="1" height="0.9"/>
</g>
<g fill="#deff34">
<rect x="174" y="5.5" width="1" height="51.2"/>
<rect x="279" y="5.8" width="1" height="50.9"/>
<rect x="272" y="5.9" width="1" height="50.8"/>
<rect x="270" y="6" width="1" height="50.7"/>
<rect x="277" y="6.1" width="1" height="50.6"/>
<rect x="271" y="6.2" width="1" height="50.5"/>
<rect x="273" y="6.3" width="2" height="50.4"/>
<rect x="278" y="6.3" width="1" height="50.4"/>
<rect x="276" y="6.4" width="1" height="50.3"/>
<rect x="275" y="6.6" width="1" height="50.1"/>
<rect x="298" y="7.1" width="1" height="49.6"/>
<rect x="299" y="7.4" width="1" height="49.3"/>
<rect x="300" y="7.8" width="1" height="48.9"/>
<rect x="302" y="8.4" width="1" height="48.3"/>
<rect x="301" y="8.6" width="1" height="48.1"/>
<rect x="303" y="9" width="1" height="47.7"/>
<rect x="305" y="9.1" width="1" height="47.6"/>
<rect x="304" y="9.3" width="1" height="47.4"/>
<rect x="307" y="9.3" width="1" height="47.4"/>
<rect x="308" y="9.6" width="1" height="47.1"/>
<rect x="306" y="9.8" width="1" height="46.9"/>
<rect x="394" y="10.1" width="1" height="46.6"/>
<rect x="379" y="10.2" width="1" height="46.5"/>
<rect x="384" y="10.2" width="1" height="46.5"/>
<rect x="388" y="10.2" width="1" height="46.5"/>
<rect x="392" y="10.2" width="1" height="46.5"/>
<rect x="373" y="10.3" width="1" height="46.4"/>
<rect x="375" y="10.3" width="1" height="46.4"/>
<rect x="387" y="10.3" width="1" height="46.4"/>
<rect x="393" y="10.4" width="1" height="46.3"/>
<rect x="391" y="10.5" width="1" height="46.2"/>
<rect x="385" y="10.6" width="1" height="46.1"/>
<rect x="390" y="10.6" width="1" height="46.1"/>
<rect x="397" y="10.6" width="2" height="46.1"/>
<rect x="376" y="10.7" width="1" height="46"/>
<rect x="389" y="10.7" width="1" height="46"/>
<rect x="377" y="10.8" width="1" height="45.9"/>
<rect x="381" y="10.9" width="1" height="45.8"/>
<rect x="395" y="10.9" width="1" height="45.8"/>
<rect x="386" y="11" width="1" height="45.7"/>
<rect x="374" y="11.1" width="1" height="45.6"/>
<rect x="378" y="11.1" width="1" height="45.6"/>
<rect x="382" y="11.1" width="1" height="45.6"/>
<rect x="396" y="11.1" width="1" height="45.6"/>
<rect x="380" y="11.2" width="1" height="45.5"/>
<rect x="383" y="11.2" width="1" height="45.5"/>
<rect x="84" y="15.4" width="1" height="41.3"/>
<rect x="158" y="15.7" width="1" height="41"/>
<rect x="177" y="16.2" width="1" height="40.5"/>
<rect x="172" y="17.4" width="1" height="39.3"/>
<rect x="195" y="17.5" width="1" height="39.2"/>
<rect x="60" y="18.8" width="1" height="37.9"/>
<rect x="163" y="20" width="1" height="36.7"/>
<rect x="178" y="20" width="1" height="36.7"/>
<rect x="103" y="21" width="1" height="35.7"/>
<rect x="154" y="21.4" width="1" height="35.3"/>
<rect x="170" y="21.7" width="1" height="35"/>
<rect x="74" y="22.4" width="1" height="34.3"/>
<rect x="98" y="22.8" width="1" height="33.9"/>
<rect x="147" y="22.9" width="1" height="33.8"/>
<rect x="78" y="23.4" width="1" height="33.3"/>
<rect x="143" y="23.4" width="1" height="33.3"/>
<rect x="100" y="32.4" width="2" height="24.3"/>
<rect x="87" y="35.5" width="1" height="21.2"/>
<rect x="71" y="37" width="1" height="19.7"/>
</g>
<g fill="#50a5e6">
<rect x="174" y="7" width="1" height="49.7"/>
<rect x="393" y="13" width="2" height="43.7"/>
<rect x="384" y="16.1" width="1" height="40.6"/>
<rect x="381" y="16.4" width="1" height="40.3"/>
<rect x="391" y="16.4" width="1" height="40.3"/>
<rect x="375" y="16.5" width="1" height="40.2"/>
<rect x="386" y="16.5" width="1" height="40.2"/>
<rect x="380" y="16.8" width="1" height="39.9"/>
<rect x="396" y="16.9" width="1" height="39.8"/>
<rect x="392" y="17" width="1" height="39.7"/>
<rect x="395" y="17" width="1" height="39.7"/>
<rect x="390" y="17.1" width="1" height="39.6"/>
<rect x="387" y="17.2" width="1" height="39.5"/>
<rect x="373" y="17.3" width="1" height="39.4"/>
<rect x="383" y="17.3" width="1" height="39.4"/>
<rect x="397" y="17.3" width="1" height="39.4"/>
<rect x="377" y="17.5" width="3" height="39.2"/>
<rect x="382" y="17.6" width="1" height="39.1"/>
<rect x="376" y="17.7" width="1" height="39"/>
<rect x="388" y="17.7" width="2" height="39"/>
<rect x="385" y="17.8" width="1" height="38.9"/>
<rect x="398" y="17.8" width="1" height="38.9"/>
<rect x="374" y="17.9" width="1" height="38.8"/>
<rect x="178" y="25" width="1" height="31.7"/>
<rect x="60" y="27.5" width="1" height="29.2"/>
<rect x="301" y="49.2" width="1" height="7.5"/>
<rect x="307" y="49.4" width="1" height="7.3"/>
<rect x="308" y="49.5" width="1" height="7.2"/>
<rect x="304" y="49.6" width="1" height="7.1"/>
<rect x="305" y="49.7" width="1" height="7"/>
<rect x="302" y="50.1" width="1" height="6.6"/>
<rect x="303" y="50.6" width="1" height="6.1"/>
<rect x="163" y="50.8" width="1" height="5.9"/>
<rect x="306" y="50.8" width="1" height="5.9"/>
<rect x="298" y="51.7" width="3" height="5"/>
</g>
<g fill="#8f8a2c">
<rect x="172" y="25" width="1" height="31.7"/>
</g>
<g fill="#c08a5a">
<rect x="84" y="31" width="1" height="25.7"/>
</g>
<g fill="#ee9450">
<rect x="192" y="23.4" width="1" height="33.3"/>
<rect x="188" y="24.5" width="1" height="32.2"/>
<rect x="74" y="28.6" width="1" height="28.1"/>
<rect x="182" y="29.7" width="1" height="27"/>
<rect x="203" y="30.5" width="1" height="26.2"/>
<rect x="103" y="31" width="1" height="25.7"/>
<rect x="195" y="32" width="1" height="24.7"/>
<rect x="197" y="32.2" width="1" height="24.5"/>
<rect x="183" y="33.2" width="1" height="23.5"/>
<rect x="176" y="33.8" width="1" height="22.9"/>
<rect x="190" y="34.5" width="1" height="22.2"/>
<rect x="78" y="36.4" width="1" height="20.3"/>
<rect x="349" y="37.4" width="1" height="19.3"/>
<rect x="571" y="40.4" width="1" height="16.3"/>
<rect x="593" y="42.4" width="1" height="14.3"/>
<rect x="576" y="43.4" width="1" height="13.3"/>
<rect x="585" y="43.4" width="1" height="13.3"/>
<rect x="358" y="45.9" width="1" height="10.8"/>
<rect x="154" y="46.4" width="1" height="10.3"/>
<rect x="589" y="47.3" width="1" height="9.4"/>
<rect x="354" y="47.4" width="1" height="9.3"/>
<rect x="372" y="48" width="1" height="8.7"/>
<rect x="573" y="48.3" width="1" height="8.4"/>
<rect x="587" y="49.3" width="1" height="7.4"/>
<rect x="177" y="49.5" width="1" height="7.2"/>
<rect x="580" y="49.8" width="1" height="6.9"/>
<rect x="98" y="50.5" width="1" height="6.2"/>
<rect x="365" y="51" width="1" height="5.7"/>
<rect x="109" y="51.1" width="1" height="5.6"/>
<rect x="131" y="51.2" width="1" height="5.5"/>
<rect x="570" y="51.3" width="1" height="5.4"/>
<rect x="578" y="51.4" width="1" height="5.3"/>
<rect x="170" y="52.3" width="1" height="4.4"/>
<rect x="566" y="52.5" width="1" height="4.2"/>
<rect x="141" y="53" width="1" height="3.7"/>
<rect x="142" y="53.3" width="1" height="3.4"/>
<rect x="583" y="53.3" width="1" height="3.4"/>
<rect x="591" y="53.3" width="1" height="3.4"/>
<rect x="147" y="53.8" width="1" height="2.9"/>
<rect x="575" y="54.2" width="1" height="2.5"/>
<rect x="582" y="54.2" width="1" height="2.5"/>
<rect x="143" y="54.3" width="1" height="2.4"/>
<rect x="562" y="54.5" width="1" height="2.2"/>
<rect x="569" y="55.2" width="1" height="1.5"/>
</g>
<g fill="#ee9450">
<rect x="391" y="19.8" width="1" height="36.9"/>
<rect x="377" y="19.9" width="1" height="36.8"/>
<rect x="381" y="20" width="2" height="36.7"/>
<rect x="375" y="20.1" width="1" height="36.6"/>
<rect x="386" y="20.2" width="2" height="36.5"/>
<rect x="379" y="20.3" width="1" height="36.4"/>
<rect x="388" y="20.3" width="1" height="36.4"/>
<rect x="380" y="20.4" width="1" height="36.3"/>
<rect x="385" y="20.4" width="1" height="36.3"/>
<rect x="389" y="20.4" width="1" height="36.3"/>
<rect x="397" y="20.4" width="1" height="36.3"/>
<rect x="390" y="20.5" width="1" height="36.2"/>
<rect x="395" y="20.6" width="1" height="36.1"/>
<rect x="396" y="20.7" width="1" height="36"/>
<rect x="392" y="20.8" width="1" height="35.9"/>
<rect x="398" y="20.8" width="1" height="35.9"/>
<rect x="378" y="20.9" width="1" height="35.8"/>
<rect x="376" y="21" width="1" height="35.7"/>
<rect x="373" y="21.1" width="2" height="35.6"/>
<rect x="384" y="21.2" width="1" height="35.5"/>
<rect x="383" y="24.3" width="1" height="32.4"/>
<rect x="172" y="28.5" width="1" height="28.2"/>
<rect x="174" y="29.4" width="1" height="27.3"/>
<rect x="60" y="33" width="1" height="23.7"/>
<rect x="178" y="33.2" width="1" height="23.5"/>
<rect x="393" y="34.5" width="2" height="22.2"/>
<rect x="301" y="50" width="1" height="6.7"/>
<rect x="307" y="50.2" width="1" height="6.5"/>
<rect x="308" y="50.3" width="1" height="6.4"/>
<rect x="304" y="50.4" width="1" height="6.3"/>
<rect x="305" y="50.5" width="1" height="6.2"/>
<rect x="302" y="50.9" width="1" height="5.8"/>
<rect x="303" y="51.4" width="1" height="5.3"/>
<rect x="306" y="51.6" width="1" height="5.1"/>
<rect x="298" y="52.5" width="3" height="4.2"/>
<rect x="163" y="55.3" width="1" height="1.4"/>
</g></g><use href="#ba" x="1" y="0" opacity="0.1875"/><use href="#ba" x="-1" y="0" opacity="0.15789"/><use href="#ba" x="0" y="1" opacity="0.13636"/><use href="#ba" x="0" y="-1" opacity="0.12"/>
<g fill="#000" fill-opacity="0.32" shape-rendering="auto"><rect x="96.60" y="3.90" width="1.5" height="52.80"/><rect x="122.90" y="3.90" width="1.5" height="52.80"/><rect x="140.90" y="3.90" width="1.5" height="52.80"/><rect x="171.60" y="3.90" width="1.5" height="52.80"/><rect x="206.80" y="3.90" width="1.5" height="52.80"/><rect x="224.20" y="3.90" width="1.5" height="52.80"/><rect x="244.00" y="3.90" width="1.5" height="52.80"/><rect x="288.60" y="3.90" width="1.5" height="52.80"/><rect x="298.00" y="3.90" width="1.5" height="52.80"/><rect x="308.90" y="3.90" width="1.5" height="52.80"/><rect x="337.40" y="3.90" width="1.5" height="52.80"/><rect x="347.90" y="3.90" width="1.5" height="52.80"/><rect x="372.90" y="3.90" width="1.5" height="52.80"/><rect x="398.80" y="3.90" width="1.5" height="52.80"/><rect x="450.20" y="3.90" width="1.5" height="52.80"/><rect x="475.80" y="3.90" width="1.5" height="52.80"/><rect x="504.10" y="3.90" width="1.5" height="52.80"/><rect x="512.30" y="3.90" width="1.5" height="52.80"/><rect x="525.90" y="3.90" width="1.5" height="52.80"/><rect x="554.90" y="3.90" width="1.5" height="52.80"/><rect x="568.40" y="3.90" width="1.5" height="52.80"/><rect x="594.10" y="3.90" width="1.5" height="52.80"/><rect x="619.20" y="3.90" width="1.5" height="52.80"/><rect x="643.90" y="3.90" width="1.5" height="52.80"/><rect x="674.90" y="3.90" width="1.5" height="52.80"/></g>
<rect x="55.8" y="3.20" width="627.2" height="54.40" fill="none" stroke="#000" stroke-width="2.0"/>
<g id="bb"><g fill="#50a5e6">
<rect x="399" y="161.1" width="1" height="52.8"/>
<rect x="401" y="161.1" width="1" height="52.8"/>
<rect x="403" y="161.1" width="2" height="52.8"/>
<rect x="406" y="161.1" width="1" height="52.8"/>
<rect x="409" y="161.1" width="1" height="52.8"/>
<rect x="412" y="161.1" width="1" height="52.8"/>
<rect x="415" y="161.1" width="1" height="52.8"/>
<rect x="417" y="161.1" width="2" height="52.8"/>
<rect x="423" y="161.1" width="10" height="52.8"/>
<rect x="436" y="161.1" width="1" height="52.8"/>
<rect x="438" y="161.1" width="1" height="52.8"/>
<rect x="447" y="161.1" width="1" height="52.8"/>
<rect x="449" y="161.1" width="1" height="52.8"/>
<rect x="505" y="161.1" width="1" height="52.8"/>
<rect x="514" y="161.1" width="1" height="52.8"/>
<rect x="516" y="161.1" width="1" height="52.8"/>
<rect x="519" y="161.1" width="1" height="52.8"/>
<rect x="523" y="161.1" width="2" height="52.8"/>
<rect x="528" y="161.1" width="1" height="52.8"/>
<rect x="532" y="161.1" width="2" height="52.8"/>
<rect x="540" y="161.1" width="1" height="52.8"/>
<rect x="550" y="161.1" width="1" height="52.8"/>
<rect x="552" y="161.1" width="1" height="52.8"/>
<rect x="554" y="161.1" width="1" height="52.8"/>
<rect x="620" y="161.1" width="3" height="52.8"/>
<rect x="624" y="161.1" width="2" height="52.8"/>
<rect x="627" y="161.1" width="3" height="52.8"/>
<rect x="633" y="161.1" width="1" height="52.8"/>
<rect x="636" y="161.1" width="1" height="52.8"/>
<rect x="640" y="161.1" width="1" height="52.8"/>
<rect x="642" y="161.1" width="1" height="52.8"/>
<rect x="644" y="161.1" width="31" height="52.8"/>
<rect x="678" y="161.1" width="2" height="52.8"/>
</g>
<g fill="#4da53a">
<rect x="207" y="161.1" width="6" height="52.8"/>
<rect x="214" y="161.1" width="11" height="52.8"/>
<rect x="373" y="161.1" width="26" height="52.8"/>
<rect x="402" y="161.1" width="1" height="52.8"/>
<rect x="407" y="161.1" width="2" height="52.8"/>
<rect x="414" y="161.1" width="1" height="52.8"/>
<rect x="416" y="161.1" width="1" height="52.8"/>
<rect x="419" y="161.1" width="1" height="52.8"/>
<rect x="421" y="161.1" width="1" height="52.8"/>
<rect x="439" y="161.1" width="1" height="52.8"/>
<rect x="443" y="161.1" width="1" height="52.8"/>
<rect x="446" y="161.1" width="1" height="52.8"/>
<rect x="448" y="161.1" width="1" height="52.8"/>
<rect x="450" y="161.1" width="1" height="52.8"/>
<rect x="626" y="161.1" width="1" height="52.8"/>
<rect x="631" y="161.1" width="1" height="52.8"/>
<rect x="639" y="161.1" width="1" height="52.8"/>
<rect x="641" y="161.1" width="1" height="52.8"/>
<rect x="643" y="161.1" width="1" height="52.8"/>
</g>
<g fill="#ee9450">
<rect x="476" y="161.1" width="29" height="52.8"/>
</g>
<g fill="#f598f0">
<rect x="348" y="161.1" width="25" height="52.8"/>
<rect x="451" y="161.1" width="25" height="52.8"/>
<rect x="507" y="161.1" width="6" height="52.8"/>
<rect x="515" y="161.1" width="1" height="52.8"/>
<rect x="517" y="161.1" width="2" height="52.8"/>
<rect x="520" y="161.1" width="1" height="52.8"/>
<rect x="522" y="161.1" width="1" height="52.8"/>
<rect x="525" y="161.1" width="3" height="52.8"/>
<rect x="530" y="161.1" width="2" height="52.8"/>
<rect x="534" y="161.1" width="3" height="52.8"/>
<rect x="538" y="161.1" width="2" height="52.8"/>
<rect x="541" y="161.1" width="1" height="52.8"/>
<rect x="544" y="161.1" width="3" height="52.8"/>
<rect x="548" y="161.1" width="2" height="52.8"/>
<rect x="551" y="161.1" width="1" height="52.8"/>
<rect x="553" y="161.1" width="1" height="52.8"/>
<rect x="555" y="161.1" width="65" height="52.8"/>
<rect x="675" y="161.1" width="1" height="52.8"/>
<rect x="680" y="161.1" width="1" height="52.8"/>
</g>
<g fill="#801a8e">
<rect x="57" y="161.1" width="150" height="52.8"/>
<rect x="213" y="161.1" width="1" height="52.8"/>
<rect x="225" y="161.1" width="123" height="52.8"/>
</g>
<g fill="#deff34">
<rect x="400" y="161.1" width="1" height="52.8"/>
<rect x="405" y="161.1" width="1" height="52.8"/>
<rect x="410" y="161.1" width="2" height="52.8"/>
<rect x="413" y="161.1" width="1" height="52.8"/>
<rect x="420" y="161.1" width="1" height="52.8"/>
<rect x="422" y="161.1" width="1" height="52.8"/>
<rect x="433" y="161.1" width="3" height="52.8"/>
<rect x="437" y="161.1" width="1" height="52.8"/>
<rect x="440" y="161.1" width="3" height="52.8"/>
<rect x="444" y="161.1" width="2" height="52.8"/>
<rect x="506" y="161.1" width="1" height="52.8"/>
<rect x="513" y="161.1" width="1" height="52.8"/>
<rect x="521" y="161.1" width="1" height="52.8"/>
<rect x="529" y="161.1" width="1" height="52.8"/>
<rect x="537" y="161.1" width="1" height="52.8"/>
<rect x="542" y="161.1" width="2" height="52.8"/>
<rect x="547" y="161.1" width="1" height="52.8"/>
<rect x="623" y="161.1" width="1" height="52.8"/>
<rect x="630" y="161.1" width="1" height="52.8"/>
<rect x="632" y="161.1" width="1" height="52.8"/>
<rect x="634" y="161.1" width="2" height="52.8"/>
<rect x="637" y="161.1" width="2" height="52.8"/>
<rect x="676" y="161.1" width="2" height="52.8"/>
<rect x="681" y="161.1" width="1" height="52.8"/>
</g>
<g fill="#50a5e6">
<rect x="409" y="161.4" width="1" height="52.5"/>
<rect x="413" y="161.4" width="1" height="52.5"/>
<rect x="420" y="161.4" width="1" height="52.5"/>
<rect x="426" y="161.4" width="1" height="52.5"/>
<rect x="443" y="161.4" width="1" height="52.5"/>
<rect x="445" y="161.4" width="1" height="52.5"/>
<rect x="421" y="161.5" width="1" height="52.4"/>
<rect x="429" y="161.5" width="1" height="52.4"/>
<rect x="447" y="161.5" width="1" height="52.4"/>
<rect x="423" y="161.7" width="2" height="52.2"/>
<rect x="444" y="161.7" width="1" height="52.2"/>
<rect x="450" y="161.7" width="1" height="52.2"/>
<rect x="408" y="161.8" width="1" height="52.1"/>
<rect x="416" y="161.8" width="1" height="52.1"/>
<rect x="431" y="161.8" width="1" height="52.1"/>
<rect x="435" y="161.8" width="1" height="52.1"/>
<rect x="620" y="161.8" width="24" height="52.1"/>
<rect x="411" y="161.9" width="1" height="52"/>
<rect x="441" y="161.9" width="1" height="52"/>
<rect x="399" y="162" width="1" height="51.9"/>
<rect x="407" y="162" width="1" height="51.9"/>
<rect x="437" y="162" width="1" height="51.9"/>
<rect x="675" y="162" width="7" height="51.9"/>
<rect x="414" y="162.1" width="1" height="51.8"/>
<rect x="427" y="162.1" width="1" height="51.8"/>
<rect x="440" y="162.1" width="1" height="51.8"/>
<rect x="403" y="162.2" width="1" height="51.7"/>
<rect x="410" y="162.2" width="1" height="51.7"/>
<rect x="434" y="162.2" width="1" height="51.7"/>
<rect x="439" y="162.2" width="1" height="51.7"/>
<rect x="418" y="162.3" width="1" height="51.6"/>
<rect x="422" y="162.3" width="1" height="51.6"/>
<rect x="442" y="162.3" width="1" height="51.6"/>
<rect x="402" y="162.4" width="1" height="51.5"/>
<rect x="406" y="162.4" width="1" height="51.5"/>
<rect x="412" y="162.4" width="1" height="51.5"/>
<rect x="425" y="162.4" width="1" height="51.5"/>
<rect x="446" y="162.4" width="1" height="51.5"/>
<rect x="401" y="162.6" width="1" height="51.3"/>
<rect x="405" y="162.6" width="1" height="51.3"/>
<rect x="436" y="162.6" width="1" height="51.3"/>
<rect x="449" y="162.6" width="1" height="51.3"/>
<rect x="417" y="162.7" width="1" height="51.2"/>
<rect x="415" y="162.8" width="1" height="51.1"/>
<rect x="419" y="162.8" width="1" height="51.1"/>
<rect x="438" y="162.8" width="1" height="51.1"/>
<rect x="430" y="162.9" width="1" height="51"/>
<rect x="432" y="162.9" width="2" height="51"/>
<rect x="448" y="162.9" width="1" height="51"/>
<rect x="400" y="163" width="1" height="50.9"/>
<rect x="404" y="163" width="1" height="50.9"/>
<rect x="428" y="163" width="1" height="50.9"/>
<rect x="178" y="179.3" width="1" height="34.6"/>
<rect x="182" y="179.3" width="1" height="34.6"/>
<rect x="187" y="180" width="1" height="33.9"/>
<rect x="200" y="181.7" width="1" height="32.2"/>
<rect x="202" y="183" width="1" height="30.9"/>
</g>
<g fill="#4da53a">
<rect x="238" y="163.1" width="1" height="50.8"/>
<rect x="226" y="163.2" width="1" height="50.7"/>
<rect x="227" y="163.3" width="1" height="50.6"/>
<rect x="225" y="163.6" width="1" height="50.3"/>
<rect x="243" y="163.7" width="1" height="50.2"/>
<rect x="235" y="163.8" width="1" height="50.1"/>
<rect x="234" y="164.4" width="1" height="49.5"/>
<rect x="242" y="164.5" width="1" height="49.4"/>
<rect x="241" y="164.6" width="1" height="49.3"/>
<rect x="228" y="164.7" width="1" height="49.2"/>
<rect x="240" y="164.7" width="1" height="49.2"/>
<rect x="299" y="165.2" width="1" height="48.7"/>
<rect x="304" y="165.3" width="1" height="48.6"/>
<rect x="302" y="165.4" width="1" height="48.5"/>
<rect x="307" y="165.4" width="1" height="48.5"/>
<rect x="303" y="165.6" width="1" height="48.3"/>
<rect x="300" y="165.7" width="1" height="48.2"/>
<rect x="305" y="165.8" width="2" height="48.1"/>
<rect x="308" y="165.8" width="1" height="48.1"/>
<rect x="239" y="165.9" width="1" height="48"/>
<rect x="298" y="165.9" width="1" height="48"/>
<rect x="301" y="166.1" width="1" height="47.8"/>
<rect x="231" y="166.2" width="1" height="47.7"/>
<rect x="237" y="166.3" width="1" height="47.6"/>
<rect x="230" y="166.9" width="1" height="47"/>
<rect x="229" y="167" width="1" height="46.9"/>
<rect x="233" y="167.1" width="1" height="46.8"/>
<rect x="236" y="167.1" width="1" height="46.8"/>
<rect x="213" y="167.4" width="1" height="46.5"/>
<rect x="232" y="167.4" width="1" height="46.5"/>
<rect x="60" y="176.9" width="1" height="37"/>
<rect x="102" y="180" width="1" height="33.9"/>
<rect x="154" y="181.4" width="1" height="32.5"/>
<rect x="144" y="182.8" width="1" height="31.1"/>
<rect x="184" y="188" width="1" height="25.9"/>
<rect x="112" y="193" width="1" height="20.9"/>
<rect x="65" y="193.4" width="1" height="20.5"/>
<rect x="128" y="194.6" width="2" height="19.3"/>
<rect x="119" y="197" width="1" height="16.9"/>
<rect x="81" y="197.5" width="1" height="16.4"/>
<rect x="91" y="201" width="1" height="12.9"/>
</g>
<g fill="#c4aa4a">
<rect x="165" y="173.9" width="1" height="40"/>
<rect x="163" y="181.1" width="1" height="32.8"/>
<rect x="168" y="185.5" width="1" height="28.4"/>
</g>
<g fill="#8f8a2c">
<rect x="141" y="181.6" width="1" height="32.3"/>
</g>
<g fill="#c08a5a">
<rect x="142" y="181.6" width="1" height="32.3"/>
</g>
<g fill="#ee9450">
<rect x="515" y="161.8" width="1" height="52.1"/>
<rect x="514" y="162.2" width="1" height="51.7"/>
<rect x="521" y="162.2" width="1" height="51.7"/>
<rect x="524" y="162.2" width="1" height="51.7"/>
<rect x="513" y="162.5" width="1" height="51.4"/>
<rect x="520" y="162.5" width="1" height="51.4"/>
<rect x="531" y="162.5" width="1" height="51.4"/>
<rect x="544" y="162.5" width="1" height="51.4"/>
<rect x="507" y="162.6" width="1" height="51.3"/>
<rect x="509" y="162.6" width="1" height="51.3"/>
<rect x="525" y="162.6" width="1" height="51.3"/>
<rect x="552" y="162.6" width="1" height="51.3"/>
<rect x="532" y="162.7" width="1" height="51.2"/>
<rect x="539" y="162.7" width="1" height="51.2"/>
<rect x="511" y="162.8" width="1" height="51.1"/>
<rect x="543" y="162.8" width="1" height="51.1"/>
<rect x="548" y="162.8" width="1" height="51.1"/>
<rect x="510" y="162.9" width="1" height="51"/>
<rect x="517" y="162.9" width="1" height="51"/>
<rect x="519" y="162.9" width="1" height="51"/>
<rect x="540" y="163" width="1" height="50.9"/>
<rect x="523" y="163.1" width="1" height="50.8"/>
<rect x="545" y="163.1" width="1" height="50.8"/>
<rect x="551" y="163.1" width="1" height="50.8"/>
<rect x="508" y="163.2" width="1" height="50.7"/>
<rect x="518" y="163.2" width="1" height="50.7"/>
<rect x="522" y="163.2" width="1" height="50.7"/>
<rect x="527" y="163.2" width="1" height="50.7"/>
<rect x="533" y="163.2" width="1" height="50.7"/>
<rect x="536" y="163.2" width="2" height="50.7"/>
<rect x="554" y="163.2" width="1" height="50.7"/>
<rect x="512" y="163.3" width="1" height="50.6"/>
<rect x="516" y="163.3" width="1" height="50.6"/>
<rect x="535" y="163.3" width="1" height="50.6"/>
<rect x="547" y="163.3" width="1" height="50.6"/>
<rect x="506" y="163.4" width="1" height="50.5"/>
<rect x="526" y="163.4" width="1" height="50.5"/>
<rect x="542" y="163.4" width="1" height="50.5"/>
<rect x="546" y="163.4" width="1" height="50.5"/>
<rect x="529" y="163.6" width="1" height="50.3"/>
<rect x="538" y="163.6" width="1" height="50.3"/>
<rect x="541" y="163.6" width="1" height="50.3"/>
<rect x="530" y="163.7" width="1" height="50.2"/>
<rect x="553" y="163.7" width="1" height="50.2"/>
<rect x="505" y="163.8" width="1" height="50.1"/>
<rect x="528" y="163.8" width="1" height="50.1"/>
<rect x="534" y="163.8" width="1" height="50.1"/>
<rect x="549" y="163.9" width="1" height="50"/>
<rect x="550" y="164" width="1" height="49.9"/>
<rect x="173" y="188" width="1" height="25.9"/>
<rect x="196" y="188.3" width="1" height="25.6"/>
<rect x="175" y="188.5" width="1" height="25.4"/>
<rect x="179" y="188.5" width="1" height="25.4"/>
<rect x="181" y="188.5" width="1" height="25.4"/>
<rect x="186" y="188.5" width="1" height="25.4"/>
<rect x="190" y="188.5" width="1" height="25.4"/>
<rect x="193" y="188.5" width="1" height="25.4"/>
<rect x="198" y="188.8" width="1" height="25.1"/>
<rect x="180" y="189" width="1" height="24.9"/>
<rect x="185" y="189" width="1" height="24.9"/>
<rect x="191" y="189" width="1" height="24.9"/>
<rect x="194" y="189" width="1" height="24.9"/>
<rect x="183" y="189.3" width="1" height="24.6"/>
<rect x="189" y="189.3" width="1" height="24.6"/>
<rect x="88" y="198" width="1" height="15.9"/>
<rect x="138" y="198.7" width="2" height="15.2"/>
<rect x="140" y="201" width="1" height="12.9"/>
<rect x="64" y="201.4" width="1" height="12.5"/>
<rect x="92" y="201.4" width="1" height="12.5"/>
<rect x="127" y="202" width="1" height="11.9"/>
<rect x="199" y="202.7" width="1" height="11.2"/>
<rect x="124" y="203.4" width="1" height="10.5"/>
<rect x="134" y="203.4" width="1" height="10.5"/>
<rect x="82" y="206" width="1" height="7.9"/>
<rect x="75" y="207.4" width="1" height="6.5"/>
<rect x="93" y="207.4" width="1" height="6.5"/>
<rect x="76" y="208.8" width="1" height="5.1"/>
<rect x="85" y="210" width="2" height="3.9"/>
<rect x="59" y="212" width="1" height="1.9"/>
<rect x="57" y="212.3" width="1" height="1.6"/>
</g>
<g fill="#f598f0">
<rect x="188" y="162" width="1" height="51.9"/>
<rect x="384" y="164.1" width="1" height="49.8"/>
<rect x="391" y="164.1" width="1" height="49.8"/>
<rect x="395" y="164.1" width="2" height="49.8"/>
<rect x="389" y="164.2" width="1" height="49.7"/>
<rect x="380" y="164.3" width="1" height="49.6"/>
<rect x="376" y="164.4" width="1" height="49.5"/>
<rect x="381" y="164.4" width="3" height="49.5"/>
<rect x="385" y="164.4" width="1" height="49.5"/>
<rect x="387" y="164.4" width="1" height="49.5"/>
<rect x="393" y="164.4" width="2" height="49.5"/>
<rect x="379" y="164.5" width="1" height="49.4"/>
<rect x="397" y="164.5" width="2" height="49.4"/>
<rect x="374" y="164.6" width="1" height="49.3"/>
<rect x="377" y="164.6" width="2" height="49.3"/>
<rect x="386" y="164.6" width="1" height="49.3"/>
<rect x="373" y="164.7" width="1" height="49.2"/>
<rect x="375" y="164.7" width="1" height="49.2"/>
<rect x="388" y="164.7" width="1" height="49.2"/>
<rect x="390" y="164.7" width="1" height="49.2"/>
<rect x="392" y="164.7" width="1" height="49.2"/>
<rect x="84" y="172.4" width="1" height="41.5"/>
<rect x="158" y="174.9" width="1" height="39"/>
<rect x="172" y="175.8" width="1" height="38.1"/>
<rect x="176" y="175.8" width="1" height="38.1"/>
<rect x="195" y="177.6" width="1" height="36.3"/>
<rect x="74" y="181.8" width="1" height="32.1"/>
<rect x="143" y="182" width="1" height="31.9"/>
<rect x="203" y="182" width="1" height="31.9"/>
<rect x="170" y="182.5" width="1" height="31.4"/>
<rect x="78" y="183.8" width="1" height="30.1"/>
<rect x="98" y="183.8" width="1" height="30.1"/>
<rect x="133" y="185.8" width="1" height="28.1"/>
<rect x="79" y="186" width="1" height="27.9"/>
<rect x="146" y="186" width="1" height="27.9"/>
<rect x="101" y="193" width="1" height="20.9"/>
<rect x="132" y="193.4" width="1" height="20.5"/>
<rect x="135" y="194.6" width="2" height="19.3"/>
<rect x="87" y="200" width="1" height="13.9"/>
<rect x="77" y="202" width="1" height="11.9"/>
<rect x="71" y="203.4" width="1" height="10.5"/>
</g>
<g fill="#b46a64">
<rect x="145" y="186.4" width="1" height="27.5"/>
<rect x="149" y="190.3" width="2" height="23.6"/>
</g>
<g fill="#deff34">
<rect x="174" y="161.2" width="1" height="52.7"/>
<rect x="326" y="162.4" width="1" height="51.5"/>
<rect x="321" y="162.5" width="1" height="51.4"/>
<rect x="328" y="162.5" width="1" height="51.4"/>
<rect x="310" y="162.6" width="1" height="51.3"/>
<rect x="329" y="162.6" width="1" height="51.3"/>
<rect x="309" y="162.7" width="1" height="51.2"/>
<rect x="317" y="162.7" width="1" height="51.2"/>
<rect x="336" y="162.7" width="1" height="51.2"/>
<rect x="313" y="162.8" width="1" height="51.1"/>
<rect x="327" y="162.8" width="1" height="51.1"/>
<rect x="333" y="162.8" width="1" height="51.1"/>
<rect x="314" y="162.9" width="1" height="51"/>
<rect x="335" y="162.9" width="1" height="51"/>
<rect x="339" y="162.9" width="1" height="51"/>
<rect x="97" y="163" width="1" height="50.9"/>
<rect x="316" y="163" width="1" height="50.9"/>
<rect x="322" y="163" width="1" height="50.9"/>
<rect x="344" y="163" width="1" height="50.9"/>
<rect x="312" y="163.1" width="1" height="50.8"/>
<rect x="331" y="163.1" width="1" height="50.8"/>
<rect x="342" y="163.1" width="1" height="50.8"/>
<rect x="345" y="163.1" width="1" height="50.8"/>
<rect x="319" y="163.2" width="1" height="50.7"/>
<rect x="346" y="163.2" width="1" height="50.7"/>
<rect x="337" y="163.3" width="1" height="50.6"/>
<rect x="343" y="163.3" width="1" height="50.6"/>
<rect x="318" y="163.4" width="1" height="50.5"/>
<rect x="323" y="163.4" width="2" height="50.5"/>
<rect x="334" y="163.4" width="1" height="50.5"/>
<rect x="311" y="163.5" width="1" height="50.4"/>
<rect x="325" y="163.5" width="1" height="50.4"/>
<rect x="332" y="163.5" width="1" height="50.4"/>
<rect x="244" y="163.6" width="1" height="50.3"/>
<rect x="280" y="163.6" width="1" height="50.3"/>
<rect x="296" y="163.6" width="1" height="50.3"/>
<rect x="315" y="163.6" width="1" height="50.3"/>
<rect x="320" y="163.6" width="1" height="50.3"/>
<rect x="330" y="163.6" width="1" height="50.3"/>
<rect x="340" y="163.6" width="1" height="50.3"/>
<rect x="347" y="163.6" width="1" height="50.3"/>
<rect x="255" y="163.7" width="1" height="50.2"/>
<rect x="262" y="163.7" width="1" height="50.2"/>
<rect x="266" y="163.7" width="2" height="50.2"/>
<rect x="297" y="163.7" width="1" height="50.2"/>
<rect x="341" y="163.7" width="1" height="50.2"/>
<rect x="268" y="163.8" width="1" height="50.1"/>
<rect x="292" y="163.8" width="2" height="50.1"/>
<rect x="248" y="163.9" width="1" height="50"/>
<rect x="294" y="163.9" width="1" height="50"/>
<rect x="250" y="164.1" width="1" height="49.8"/>
<rect x="259" y="164.1" width="1" height="49.8"/>
<rect x="291" y="164.1" width="1" height="49.8"/>
<rect x="338" y="164.1" width="1" height="49.8"/>
<rect x="270" y="164.2" width="1" height="49.7"/>
<rect x="277" y="164.2" width="1" height="49.7"/>
<rect x="283" y="164.2" width="1" height="49.7"/>
<rect x="245" y="164.3" width="1" height="49.6"/>
<rect x="274" y="164.3" width="1" height="49.6"/>
<rect x="289" y="164.3" width="2" height="49.6"/>
<rect x="295" y="164.3" width="1" height="49.6"/>
<rect x="246" y="164.4" width="1" height="49.5"/>
<rect x="273" y="164.4" width="1" height="49.5"/>
<rect x="279" y="164.4" width="1" height="49.5"/>
<rect x="251" y="164.5" width="1" height="49.4"/>
<rect x="257" y="164.5" width="1" height="49.4"/>
<rect x="260" y="164.5" width="1" height="49.4"/>
<rect x="285" y="164.5" width="1" height="49.4"/>
<rect x="451" y="164.5" width="1" height="49.4"/>
<rect x="459" y="164.5" width="1" height="49.4"/>
<rect x="254" y="164.6" width="1" height="49.3"/>
<rect x="263" y="164.6" width="1" height="49.3"/>
<rect x="286" y="164.6" width="1" height="49.3"/>
<rect x="453" y="164.6" width="1" height="49.3"/>
<rect x="455" y="164.6" width="1" height="49.3"/>
<rect x="256" y="164.7" width="1" height="49.2"/>
<rect x="457" y="164.8" width="1" height="49.1"/>
<rect x="462" y="164.8" width="1" height="49.1"/>
<rect x="468" y="164.8" width="1" height="49.1"/>
<rect x="471" y="164.8" width="1" height="49.1"/>
<rect x="458" y="164.9" width="1" height="49"/>
<rect x="464" y="165" width="2" height="48.9"/>
<rect x="469" y="165" width="1" height="48.9"/>
<rect x="276" y="165.1" width="1" height="48.8"/>
<rect x="454" y="165.1" width="1" height="48.8"/>
<rect x="456" y="165.1" width="1" height="48.8"/>
<rect x="461" y="165.1" width="1" height="48.8"/>
<rect x="466" y="165.1" width="1" height="48.8"/>
<rect x="475" y="165.1" width="1" height="48.8"/>
<rect x="472" y="165.2" width="1" height="48.7"/>
<rect x="278" y="165.3" width="1" height="48.6"/>
<rect x="463" y="165.3" width="1" height="48.6"/>
<rect x="467" y="165.3" width="1" height="48.6"/>
<rect x="470" y="165.3" width="1" height="48.6"/>
<rect x="265" y="165.4" width="1" height="48.5"/>
<rect x="271" y="165.4" width="1" height="48.5"/>
<rect x="452" y="165.4" width="1" height="48.5"/>
<rect x="460" y="165.4" width="1" height="48.5"/>
<rect x="264" y="165.5" width="1" height="48.4"/>
<rect x="288" y="165.5" width="1" height="48.4"/>
<rect x="361" y="165.5" width="1" height="48.4"/>
<rect x="364" y="165.5" width="1" height="48.4"/>
<rect x="473" y="165.5" width="2" height="48.4"/>
<rect x="252" y="165.6" width="2" height="48.3"/>
<rect x="352" y="165.6" width="1" height="48.3"/>
<rect x="354" y="165.6" width="1" height="48.3"/>
<rect x="367" y="165.7" width="1" height="48.2"/>
<rect x="370" y="165.7" width="1" height="48.2"/>
<rect x="258" y="165.8" width="1" height="48.1"/>
<rect x="261" y="165.8" width="1" height="48.1"/>
<rect x="269" y="165.8" width="1" height="48.1"/>
<rect x="272" y="165.8" width="1" height="48.1"/>
<rect x="281" y="165.8" width="1" height="48.1"/>
<rect x="287" y="165.8" width="1" height="48.1"/>
<rect x="348" y="165.8" width="1" height="48.1"/>
<rect x="360" y="165.8" width="1" height="48.1"/>
<rect x="247" y="165.9" width="1" height="48"/>
<rect x="249" y="165.9" width="1" height="48"/>
<rect x="275" y="165.9" width="1" height="48"/>
<rect x="282" y="165.9" width="1" height="48"/>
<rect x="284" y="165.9" width="1" height="48"/>
<rect x="350" y="165.9" width="1" height="48"/>
<rect x="356" y="165.9" width="2" height="48"/>
<rect x="358" y="166" width="1" height="47.9"/>
<rect x="372" y="166" width="1" height="47.9"/>
<rect x="353" y="166.1" width="1" height="47.8"/>
<rect x="371" y="166.2" width="1" height="47.7"/>
<rect x="349" y="166.4" width="1" height="47.5"/>
<rect x="366" y="166.4" width="1" height="47.5"/>
<rect x="355" y="166.5" width="1" height="47.4"/>
<rect x="351" y="166.6" width="1" height="47.3"/>
<rect x="362" y="166.6" width="1" height="47.3"/>
<rect x="369" y="166.6" width="1" height="47.3"/>
<rect x="359" y="166.7" width="1" height="47.2"/>
<rect x="363" y="166.7" width="1" height="47.2"/>
<rect x="365" y="166.8" width="1" height="47.1"/>
<rect x="368" y="166.8" width="1" height="47.1"/>
<rect x="192" y="169" width="1" height="44.9"/>
<rect x="197" y="178.8" width="1" height="35.1"/>
<rect x="201" y="181.7" width="1" height="32.2"/>
<rect x="177" y="182" width="1" height="31.9"/>
<rect x="204" y="184" width="1" height="29.9"/>
<rect x="205" y="185.2" width="2" height="28.7"/>
<rect x="99" y="186" width="1" height="27.9"/>
<rect x="80" y="187" width="1" height="26.9"/>
<rect x="153" y="187" width="1" height="26.9"/>
<rect x="152" y="187.9" width="1" height="26"/>
<rect x="104" y="188.2" width="1" height="25.7"/>
<rect x="151" y="188.8" width="1" height="25.1"/>
<rect x="147" y="189.8" width="1" height="24.1"/>
<rect x="171" y="189.8" width="1" height="24.1"/>
<rect x="148" y="190" width="1" height="23.9"/>
<rect x="109" y="191" width="1" height="22.9"/>
<rect x="159" y="191" width="1" height="22.9"/>
<rect x="162" y="191" width="1" height="22.9"/>
<rect x="125" y="191.1" width="1" height="22.8"/>
<rect x="72" y="191.5" width="1" height="22.4"/>
<rect x="105" y="192" width="1" height="21.9"/>
<rect x="155" y="192.6" width="1" height="21.3"/>
<rect x="160" y="192.6" width="2" height="21.3"/>
<rect x="164" y="192.7" width="1" height="21.2"/>
<rect x="166" y="193.1" width="1" height="20.8"/>
<rect x="62" y="193.4" width="1" height="20.5"/>
<rect x="156" y="193.6" width="2" height="20.3"/>
<rect x="167" y="193.6" width="1" height="20.3"/>
<rect x="571" y="194.2" width="1" height="19.7"/>
<rect x="169" y="194.5" width="1" height="19.4"/>
<rect x="122" y="195.2" width="1" height="18.7"/>
<rect x="130" y="195.8" width="1" height="18.1"/>
<rect x="123" y="196" width="1" height="17.9"/>
<rect x="593" y="196.2" width="1" height="17.7"/>
<rect x="131" y="196.4" width="1" height="17.5"/>
<rect x="576" y="197.2" width="1" height="16.7"/>
<rect x="585" y="197.2" width="1" height="16.7"/>
<rect x="126" y="197.5" width="1" height="16.4"/>
<rect x="108" y="197.7" width="1" height="16.2"/>
<rect x="113" y="197.7" width="1" height="16.2"/>
<rect x="100" y="199.5" width="1" height="14.4"/>
<rect x="118" y="199.5" width="1" height="14.4"/>
<rect x="137" y="199.9" width="1" height="14"/>
<rect x="69" y="200" width="1" height="13.9"/>
<rect x="73" y="201" width="1" height="12.9"/>
<rect x="106" y="201" width="1" height="12.9"/>
<rect x="589" y="201.1" width="1" height="12.8"/>
<rect x="573" y="202.1" width="1" height="11.8"/>
<rect x="103" y="203" width="1" height="10.9"/>
<rect x="114" y="203" width="1" height="10.9"/>
<rect x="587" y="203.1" width="1" height="10.8"/>
<rect x="580" y="203.6" width="1" height="10.3"/>
<rect x="115" y="205" width="1" height="8.9"/>
<rect x="120" y="205" width="1" height="8.9"/>
<rect x="570" y="205.1" width="1" height="8.8"/>
<rect x="578" y="205.2" width="1" height="8.7"/>
<rect x="121" y="205.5" width="1" height="8.4"/>
<rect x="566" y="206.1" width="1" height="7.8"/>
<rect x="116" y="207" width="1" height="6.9"/>
<rect x="583" y="207.1" width="1" height="6.8"/>
<rect x="591" y="207.1" width="1" height="6.8"/>
<rect x="107" y="208" width="1" height="5.9"/>
<rect x="110" y="208" width="2" height="5.9"/>
<rect x="575" y="208" width="1" height="5.9"/>
<rect x="582" y="208" width="1" height="5.9"/>
<rect x="594" y="208.1" width="1" height="5.8"/>
<rect x="574" y="208.3" width="1" height="5.6"/>
<rect x="590" y="208.5" width="1" height="5.4"/>
<rect x="579" y="208.6" width="1" height="5.3"/>
<rect x="588" y="208.9" width="1" height="5"/>
<rect x="569" y="209" width="1" height="4.9"/>
<rect x="572" y="209.1" width="1" height="4.8"/>
<rect x="592" y="209.1" width="1" height="4.8"/>
<rect x="581" y="209.3" width="1" height="4.6"/>
<rect x="562" y="209.5" width="1" height="4.4"/>
<rect x="584" y="209.8" width="1" height="4.1"/>
<rect x="586" y="209.8" width="1" height="4.1"/>
<rect x="577" y="210.1" width="1" height="3.8"/>
<rect x="58" y="212" width="1" height="1.9"/>
</g>
<g fill="#50a5e6">
<rect x="188" y="163" width="1" height="50.9"/>
<rect x="174" y="164" width="1" height="49.9"/>
<rect x="192" y="170" width="1" height="43.9"/>
<rect x="349" y="193.8" width="1" height="20.1"/>
<rect x="571" y="196" width="1" height="17.9"/>
<rect x="593" y="198" width="1" height="15.9"/>
<rect x="131" y="198.7" width="1" height="15.2"/>
<rect x="88" y="199" width="1" height="14.9"/>
<rect x="576" y="199" width="1" height="14.9"/>
<rect x="585" y="199" width="1" height="14.9"/>
<rect x="62" y="200.4" width="1" height="13.5"/>
<rect x="87" y="201" width="1" height="12.9"/>
<rect x="358" y="202.3" width="1" height="11.6"/>
<rect x="589" y="202.9" width="1" height="11"/>
<rect x="354" y="203.8" width="1" height="10.1"/>
<rect x="573" y="203.9" width="1" height="10"/>
<rect x="372" y="204.4" width="1" height="9.5"/>
<rect x="587" y="204.9" width="1" height="9"/>
<rect x="109" y="205" width="1" height="8.9"/>
<rect x="580" y="205.4" width="1" height="8.5"/>
<rect x="570" y="206.9" width="1" height="7"/>
<rect x="163" y="207" width="1" height="6.9"/>
<rect x="578" y="207" width="1" height="6.9"/>
<rect x="365" y="207.4" width="1" height="6.5"/>
<rect x="566" y="207.7" width="1" height="6.2"/>
<rect x="583" y="208.9" width="1" height="5"/>
<rect x="591" y="208.9" width="1" height="5"/>
<rect x="575" y="209.8" width="1" height="4.1"/>
<rect x="582" y="209.8" width="1" height="4.1"/>
<rect x="562" y="210.2" width="1" height="3.7"/>
<rect x="569" y="210.8" width="1" height="3.1"/>
<rect x="69" y="211.5" width="1" height="2.4"/>
</g>
<g fill="#c4aa4a">
<rect x="158" y="175.8" width="1" height="38.1"/>
<rect x="172" y="176.5" width="1" height="37.4"/>
<rect x="170" y="183" width="1" height="30.9"/>
</g>
<g fill="#c08a5a">
<rect x="84" y="174.9" width="1" height="39"/>
<rect x="102" y="181" width="1" height="32.9"/>
</g>
<g fill="#ee9450">
<rect x="409" y="166.2" width="1" height="47.7"/>
<rect x="422" y="166.2" width="1" height="47.7"/>
<rect x="417" y="166.3" width="1" height="47.6"/>
<rect x="420" y="166.3" width="1" height="47.6"/>
<rect x="425" y="166.3" width="1" height="47.6"/>
<rect x="434" y="166.4" width="1" height="47.5"/>
<rect x="450" y="166.4" width="1" height="47.5"/>
<rect x="406" y="166.5" width="1" height="47.4"/>
<rect x="408" y="166.5" width="1" height="47.4"/>
<rect x="413" y="166.5" width="1" height="47.4"/>
<rect x="423" y="166.5" width="1" height="47.4"/>
<rect x="443" y="166.5" width="1" height="47.4"/>
<rect x="412" y="166.6" width="1" height="47.3"/>
<rect x="428" y="166.6" width="1" height="47.3"/>
<rect x="437" y="166.6" width="1" height="47.3"/>
<rect x="448" y="166.6" width="1" height="47.3"/>
<rect x="400" y="166.7" width="1" height="47.2"/>
<rect x="402" y="166.7" width="1" height="47.2"/>
<rect x="421" y="166.7" width="1" height="47.2"/>
<rect x="429" y="166.7" width="1" height="47.2"/>
<rect x="435" y="166.7" width="1" height="47.2"/>
<rect x="403" y="166.8" width="1" height="47.1"/>
<rect x="401" y="166.9" width="1" height="47"/>
<rect x="407" y="167" width="1" height="46.9"/>
<rect x="411" y="167" width="1" height="46.9"/>
<rect x="438" y="167" width="1" height="46.9"/>
<rect x="442" y="167" width="1" height="46.9"/>
<rect x="439" y="167.1" width="1" height="46.8"/>
<rect x="441" y="167.3" width="1" height="46.6"/>
<rect x="418" y="167.4" width="1" height="46.5"/>
<rect x="444" y="167.4" width="1" height="46.5"/>
<rect x="399" y="167.5" width="1" height="46.4"/>
<rect x="415" y="167.5" width="1" height="46.4"/>
<rect x="414" y="167.6" width="1" height="46.3"/>
<rect x="431" y="167.6" width="2" height="46.3"/>
<rect x="445" y="167.6" width="2" height="46.3"/>
<rect x="447" y="167.7" width="1" height="46.2"/>
<rect x="424" y="167.8" width="1" height="46.1"/>
<rect x="440" y="167.9" width="1" height="46"/>
<rect x="430" y="168" width="1" height="45.9"/>
<rect x="449" y="168" width="1" height="45.9"/>
<rect x="436" y="168.1" width="1" height="45.8"/>
<rect x="463" y="168.3" width="1" height="45.6"/>
<rect x="465" y="168.4" width="1" height="45.5"/>
<rect x="470" y="168.4" width="1" height="45.5"/>
<rect x="464" y="168.5" width="1" height="45.4"/>
<rect x="471" y="168.5" width="1" height="45.4"/>
<rect x="475" y="168.6" width="1" height="45.3"/>
<rect x="457" y="168.7" width="1" height="45.2"/>
<rect x="456" y="168.8" width="1" height="45.1"/>
<rect x="469" y="168.8" width="1" height="45.1"/>
<rect x="468" y="169" width="1" height="44.9"/>
<rect x="454" y="169.1" width="1" height="44.8"/>
<rect x="461" y="169.1" width="1" height="44.8"/>
<rect x="474" y="169.1" width="1" height="44.8"/>
<rect x="410" y="169.2" width="1" height="44.7"/>
<rect x="433" y="169.2" width="1" height="44.7"/>
<rect x="467" y="169.2" width="1" height="44.7"/>
<rect x="473" y="169.2" width="1" height="44.7"/>
<rect x="466" y="169.4" width="1" height="44.5"/>
<rect x="452" y="169.5" width="2" height="44.4"/>
<rect x="459" y="169.5" width="2" height="44.4"/>
<rect x="462" y="169.5" width="1" height="44.4"/>
<rect x="419" y="169.6" width="1" height="44.3"/>
<rect x="455" y="169.6" width="1" height="44.3"/>
<rect x="472" y="169.6" width="1" height="44.3"/>
<rect x="451" y="169.8" width="1" height="44.1"/>
<rect x="458" y="169.8" width="1" height="44.1"/>
<rect x="427" y="170.2" width="1" height="43.7"/>
<rect x="405" y="171.2" width="1" height="42.7"/>
<rect x="426" y="171.6" width="1" height="42.3"/>
<rect x="416" y="172.2" width="1" height="41.7"/>
<rect x="404" y="172.6" width="1" height="41.3"/>
<rect x="195" y="178.4" width="1" height="35.5"/>
<rect x="178" y="180.3" width="1" height="33.6"/>
<rect x="182" y="180.3" width="1" height="33.6"/>
<rect x="187" y="181" width="1" height="32.9"/>
<rect x="197" y="181" width="1" height="32.9"/>
<rect x="200" y="182.5" width="1" height="31.4"/>
<rect x="74" y="182.8" width="1" height="31.1"/>
<rect x="201" y="184" width="2" height="29.9"/>
<rect x="78" y="184.8" width="1" height="29.1"/>
<rect x="133" y="186.6" width="1" height="27.3"/>
<rect x="204" y="188" width="1" height="25.9"/>
<rect x="184" y="188.8" width="1" height="25.1"/>
<rect x="104" y="193" width="1" height="20.9"/>
<rect x="205" y="193.5" width="2" height="20.4"/>
<rect x="132" y="194" width="1" height="19.9"/>
<rect x="135" y="195.3" width="2" height="18.6"/>
<rect x="80" y="196" width="1" height="17.9"/>
<rect x="99" y="196" width="1" height="17.9"/>
<rect x="356" y="197.2" width="2" height="16.7"/>
<rect x="362" y="200.6" width="1" height="13.3"/>
<rect x="72" y="201" width="1" height="12.9"/>
<rect x="91" y="201.8" width="1" height="12.1"/>
<rect x="77" y="203" width="1" height="10.9"/>
<rect x="125" y="203" width="1" height="10.9"/>
<rect x="130" y="203.4" width="1" height="10.5"/>
<rect x="123" y="204" width="1" height="9.9"/>
<rect x="137" y="204" width="1" height="9.9"/>
<rect x="71" y="204.4" width="1" height="9.5"/>
<rect x="126" y="204.5" width="1" height="9.4"/>
<rect x="350" y="204.6" width="1" height="9.3"/>
<rect x="177" y="205" width="1" height="8.9"/>
<rect x="351" y="205.7" width="1" height="8.2"/>
<rect x="348" y="206.3" width="1" height="7.6"/>
<rect x="371" y="206.4" width="1" height="7.5"/>
<rect x="368" y="206.5" width="1" height="7.4"/>
<rect x="367" y="206.8" width="1" height="7.1"/>
<rect x="355" y="207" width="1" height="6.9"/>
<rect x="366" y="207" width="1" height="6.9"/>
<rect x="363" y="207.1" width="1" height="6.8"/>
<rect x="353" y="207.3" width="1" height="6.6"/>
<rect x="364" y="207.3" width="1" height="6.6"/>
<rect x="360" y="207.6" width="1" height="6.3"/>
<rect x="361" y="207.9" width="1" height="6"/>
<rect x="369" y="208" width="2" height="5.9"/>
<rect x="359" y="208.1" width="1" height="5.8"/>
<rect x="73" y="208.5" width="1" height="5.4"/>
<rect x="151" y="209" width="2" height="4.9"/>
<rect x="594" y="209.3" width="1" height="4.6"/>
<rect x="574" y="209.5" width="1" height="4.4"/>
<rect x="590" y="209.7" width="1" height="4.2"/>
<rect x="579" y="209.8" width="1" height="4.1"/>
<rect x="588" y="210.1" width="1" height="3.8"/>
<rect x="572" y="210.3" width="1" height="3.6"/>
<rect x="592" y="210.3" width="1" height="3.6"/>
<rect x="581" y="210.5" width="1" height="3.4"/>
<rect x="168" y="210.7" width="1" height="3.2"/>
<rect x="584" y="211" width="1" height="2.9"/>
<rect x="586" y="211" width="1" height="2.9"/>
<rect x="577" y="211.3" width="1" height="2.6"/>
<rect x="282" y="211.4" width="1" height="2.5"/>
<rect x="287" y="211.6" width="1" height="2.3"/>
<rect x="633" y="211.6" width="1" height="2.3"/>
<rect x="279" y="211.7" width="1" height="2.2"/>
<rect x="285" y="211.7" width="1" height="2.2"/>
<rect x="352" y="211.7" width="1" height="2.2"/>
<rect x="643" y="211.8" width="1" height="2.1"/>
<rect x="627" y="211.9" width="1" height="2"/>
<rect x="676" y="211.9" width="1" height="2"/>
<rect x="283" y="212" width="1" height="1.9"/>
<rect x="286" y="212" width="1" height="1.9"/>
<rect x="630" y="212" width="1" height="1.9"/>
<rect x="625" y="212.1" width="1" height="1.8"/>
<rect x="281" y="212.2" width="1" height="1.7"/>
<rect x="280" y="212.3" width="1" height="1.6"/>
<rect x="288" y="212.3" width="1" height="1.6"/>
<rect x="624" y="212.4" width="1" height="1.5"/>
<rect x="678" y="212.4" width="1" height="1.5"/>
<rect x="284" y="212.5" width="1" height="1.4"/>
<rect x="640" y="212.5" width="1" height="1.4"/>
<rect x="623" y="212.7" width="1" height="1.2"/>
<rect x="628" y="212.7" width="1" height="1.2"/>
<rect x="679" y="212.7" width="1" height="1.2"/>
<rect x="620" y="212.8" width="1" height="1.1"/>
</g>
<g fill="#f598f0">
<rect x="154" y="181.9" width="1" height="32"/>
</g>
<g fill="#b46a64">
<rect x="146" y="186.9" width="1" height="27"/>
</g>
<g fill="#deff34">
<rect x="299" y="166.8" width="1" height="47.1"/>
<rect x="302" y="167" width="1" height="46.9"/>
<rect x="378" y="167.2" width="1" height="46.7"/>
<rect x="385" y="167.2" width="1" height="46.7"/>
<rect x="304" y="167.4" width="1" height="46.5"/>
<rect x="375" y="167.4" width="1" height="46.5"/>
<rect x="383" y="167.4" width="1" height="46.5"/>
<rect x="390" y="167.4" width="1" height="46.5"/>
<rect x="306" y="167.5" width="1" height="46.4"/>
<rect x="374" y="167.5" width="1" height="46.4"/>
<rect x="382" y="167.5" width="1" height="46.4"/>
<rect x="392" y="167.5" width="1" height="46.4"/>
<rect x="300" y="167.6" width="1" height="46.3"/>
<rect x="307" y="167.6" width="2" height="46.3"/>
<rect x="391" y="167.6" width="1" height="46.3"/>
<rect x="394" y="167.6" width="1" height="46.3"/>
<rect x="397" y="167.6" width="1" height="46.3"/>
<rect x="298" y="167.7" width="1" height="46.2"/>
<rect x="376" y="167.7" width="1" height="46.2"/>
<rect x="381" y="167.7" width="1" height="46.2"/>
<rect x="384" y="167.7" width="1" height="46.2"/>
<rect x="387" y="167.7" width="1" height="46.2"/>
<rect x="303" y="167.9" width="1" height="46"/>
<rect x="373" y="167.9" width="1" height="46"/>
<rect x="379" y="167.9" width="2" height="46"/>
<rect x="305" y="168.1" width="1" height="45.8"/>
<rect x="386" y="168.1" width="1" height="45.8"/>
<rect x="396" y="168.1" width="1" height="45.8"/>
<rect x="377" y="168.3" width="1" height="45.6"/>
<rect x="393" y="168.3" width="1" height="45.6"/>
<rect x="395" y="168.3" width="1" height="45.6"/>
<rect x="398" y="168.3" width="1" height="45.6"/>
<rect x="388" y="168.4" width="2" height="45.5"/>
<rect x="301" y="168.6" width="1" height="45.3"/>
<rect x="176" y="176.5" width="1" height="37.4"/>
<rect x="60" y="177.8" width="1" height="36.1"/>
<rect x="143" y="183" width="1" height="30.9"/>
<rect x="203" y="183" width="1" height="30.9"/>
<rect x="144" y="183.5" width="1" height="30.4"/>
<rect x="98" y="184.8" width="1" height="29.1"/>
<rect x="79" y="187" width="1" height="26.9"/>
<rect x="141" y="188" width="2" height="25.9"/>
<rect x="112" y="193.8" width="1" height="20.1"/>
<rect x="65" y="194.2" width="1" height="19.7"/>
<rect x="128" y="195.2" width="2" height="18.7"/>
<rect x="101" y="197.7" width="1" height="16.2"/>
<rect x="119" y="197.7" width="1" height="16.2"/>
<rect x="81" y="198" width="1" height="15.9"/>
<rect x="145" y="200.5" width="1" height="13.4"/>
<rect x="149" y="201.9" width="2" height="12"/>
<rect x="213" y="208.6" width="1" height="5.3"/>
</g>
<g fill="#50a5e6">
<rect x="393" y="170.2" width="2" height="43.7"/>
<rect x="381" y="173.3" width="1" height="40.6"/>
<rect x="377" y="173.4" width="1" height="40.5"/>
<rect x="376" y="173.5" width="1" height="40.4"/>
<rect x="384" y="173.5" width="1" height="40.4"/>
<rect x="396" y="173.5" width="1" height="40.4"/>
<rect x="398" y="173.5" width="1" height="40.4"/>
<rect x="375" y="173.7" width="1" height="40.2"/>
<rect x="374" y="174" width="1" height="39.9"/>
<rect x="380" y="174.1" width="1" height="39.8"/>
<rect x="383" y="174.2" width="1" height="39.7"/>
<rect x="386" y="174.2" width="1" height="39.7"/>
<rect x="389" y="174.2" width="1" height="39.7"/>
<rect x="379" y="174.4" width="1" height="39.5"/>
<rect x="385" y="174.4" width="1" height="39.5"/>
<rect x="395" y="174.5" width="1" height="39.4"/>
<rect x="388" y="174.6" width="1" height="39.3"/>
<rect x="382" y="174.7" width="1" height="39.2"/>
<rect x="390" y="174.7" width="2" height="39.2"/>
<rect x="373" y="174.8" width="1" height="39.1"/>
<rect x="378" y="174.8" width="1" height="39.1"/>
<rect x="392" y="174.8" width="1" height="39.1"/>
<rect x="397" y="174.9" width="1" height="39"/>
<rect x="387" y="175" width="1" height="38.9"/>
<rect x="60" y="182.8" width="1" height="31.1"/>
<rect x="302" y="206.5" width="1" height="7.4"/>
<rect x="308" y="206.7" width="1" height="7.2"/>
<rect x="307" y="207" width="1" height="6.9"/>
<rect x="303" y="207.1" width="1" height="6.8"/>
<rect x="304" y="207.4" width="1" height="6.5"/>
<rect x="305" y="207.8" width="2" height="6.1"/>
<rect x="301" y="208.1" width="1" height="5.8"/>
<rect x="298" y="208.9" width="3" height="5"/>
</g>
<g fill="#ee9450">
<rect x="188" y="179.4" width="1" height="34.5"/>
<rect x="172" y="181" width="1" height="32.9"/>
<rect x="192" y="181.7" width="1" height="32.2"/>
<rect x="176" y="182" width="1" height="31.9"/>
<rect x="174" y="186" width="1" height="27.9"/>
<rect x="203" y="186" width="1" height="27.9"/>
<rect x="79" y="188" width="1" height="25.9"/>
<rect x="98" y="190" width="1" height="23.9"/>
<rect x="349" y="194.6" width="1" height="19.3"/>
<rect x="571" y="197.6" width="1" height="16.3"/>
<rect x="593" y="199.6" width="1" height="14.3"/>
<rect x="576" y="200.6" width="1" height="13.3"/>
<rect x="585" y="200.6" width="1" height="13.3"/>
<rect x="62" y="201.4" width="1" height="12.5"/>
<rect x="358" y="203.1" width="1" height="10.8"/>
<rect x="128" y="203.4" width="2" height="10.5"/>
<rect x="589" y="204.5" width="1" height="9.4"/>
<rect x="354" y="204.6" width="1" height="9.3"/>
<rect x="65" y="205" width="1" height="8.9"/>
<rect x="88" y="205" width="1" height="8.9"/>
<rect x="131" y="205.1" width="1" height="8.8"/>
<rect x="372" y="205.2" width="1" height="8.7"/>
<rect x="573" y="205.5" width="1" height="8.4"/>
<rect x="87" y="206" width="1" height="7.9"/>
<rect x="587" y="206.5" width="1" height="7.4"/>
<rect x="109" y="206.8" width="1" height="7.1"/>
<rect x="580" y="207" width="1" height="6.9"/>
<rect x="365" y="208.2" width="1" height="5.7"/>
<rect x="170" y="208.4" width="1" height="5.5"/>
<rect x="570" y="208.5" width="1" height="5.4"/>
<rect x="578" y="208.6" width="1" height="5.3"/>
<rect x="566" y="209.7" width="1" height="4.2"/>
<rect x="141" y="210" width="3" height="3.9"/>
<rect x="149" y="210" width="1" height="3.9"/>
<rect x="583" y="210.5" width="1" height="3.4"/>
<rect x="591" y="210.5" width="1" height="3.4"/>
<rect x="163" y="210.7" width="1" height="3.2"/>
<rect x="575" y="211.4" width="1" height="2.5"/>
<rect x="582" y="211.4" width="1" height="2.5"/>
<rect x="562" y="211.7" width="1" height="2.2"/>
<rect x="569" y="212.4" width="1" height="1.5"/>
</g>
<g fill="#deff34">
<rect x="154" y="182.5" width="1" height="31.4"/>
<rect x="146" y="200.5" width="1" height="13.4"/>
</g>
<g fill="#ee9450">
<rect x="385" y="177.1" width="2" height="36.8"/>
<rect x="373" y="177.2" width="1" height="36.7"/>
<rect x="378" y="177.2" width="1" height="36.7"/>
<rect x="387" y="177.2" width="1" height="36.7"/>
<rect x="391" y="177.2" width="2" height="36.7"/>
<rect x="376" y="177.3" width="1" height="36.6"/>
<rect x="379" y="177.4" width="1" height="36.5"/>
<rect x="375" y="177.6" width="1" height="36.3"/>
<rect x="384" y="177.6" width="1" height="36.3"/>
<rect x="396" y="177.7" width="1" height="36.2"/>
<rect x="377" y="177.8" width="1" height="36.1"/>
<rect x="397" y="177.8" width="1" height="36.1"/>
<rect x="380" y="177.9" width="2" height="36"/>
<rect x="382" y="178.1" width="1" height="35.8"/>
<rect x="388" y="178.1" width="1" height="35.8"/>
<rect x="374" y="178.2" width="1" height="35.7"/>
<rect x="389" y="178.3" width="2" height="35.6"/>
<rect x="395" y="178.3" width="1" height="35.6"/>
<rect x="398" y="178.4" width="1" height="35.5"/>
<rect x="383" y="181.5" width="1" height="32.4"/>
<rect x="60" y="188.5" width="1" height="25.4"/>
<rect x="393" y="191.7" width="2" height="22.2"/>
<rect x="154" y="201.9" width="1" height="12"/>
<rect x="302" y="207.3" width="1" height="6.6"/>
<rect x="308" y="207.5" width="1" height="6.4"/>
<rect x="307" y="207.8" width="1" height="6.1"/>
<rect x="303" y="207.9" width="1" height="6"/>
<rect x="304" y="208.2" width="1" height="5.7"/>
<rect x="305" y="208.6" width="2" height="5.3"/>
<rect x="301" y="208.9" width="1" height="5"/>
<rect x="298" y="209.7" width="3" height="4.2"/>
</g></g><use href="#bb" x="1" y="0" opacity="0.1875"/><use href="#bb" x="-1" y="0" opacity="0.15789"/><use href="#bb" x="0" y="1" opacity="0.13636"/><use href="#bb" x="0" y="-1" opacity="0.12"/>
<g fill="#000" fill-opacity="0.32" shape-rendering="auto"><rect x="96.60" y="161.10" width="1.5" height="52.80"/><rect x="122.90" y="161.10" width="1.5" height="52.80"/><rect x="140.90" y="161.10" width="1.5" height="52.80"/><rect x="171.60" y="161.10" width="1.5" height="52.80"/><rect x="206.80" y="161.10" width="1.5" height="52.80"/><rect x="224.20" y="161.10" width="1.5" height="52.80"/><rect x="244.00" y="161.10" width="1.5" height="52.80"/><rect x="288.60" y="161.10" width="1.5" height="52.80"/><rect x="298.00" y="161.10" width="1.5" height="52.80"/><rect x="308.90" y="161.10" width="1.5" height="52.80"/><rect x="337.40" y="161.10" width="1.5" height="52.80"/><rect x="347.90" y="161.10" width="1.5" height="52.80"/><rect x="372.90" y="161.10" width="1.5" height="52.80"/><rect x="398.80" y="161.10" width="1.5" height="52.80"/><rect x="450.20" y="161.10" width="1.5" height="52.80"/><rect x="475.80" y="161.10" width="1.5" height="52.80"/><rect x="504.10" y="161.10" width="1.5" height="52.80"/><rect x="512.30" y="161.10" width="1.5" height="52.80"/><rect x="525.90" y="161.10" width="1.5" height="52.80"/><rect x="554.90" y="161.10" width="1.5" height="52.80"/><rect x="568.40" y="161.10" width="1.5" height="52.80"/><rect x="594.10" y="161.10" width="1.5" height="52.80"/><rect x="619.20" y="161.10" width="1.5" height="52.80"/><rect x="643.90" y="161.10" width="1.5" height="52.80"/><rect x="674.90" y="161.10" width="1.5" height="52.80"/></g>
<rect x="55.8" y="160.40" width="627.2" height="54.40" fill="none" stroke="#000" stroke-width="2.0"/>
<g class="lbl" font-family="Liberation Sans, sans-serif" font-size="9.2" fill="#151515" stroke="#151515" stroke-width="0.2" letter-spacing="-0.2" text-anchor="end">
<text transform="translate(81.25 67.30) rotate(-59) scale(0.92 1)">Hawaiian100</text>
<text transform="translate(114.55 67.30) rotate(-59) scale(0.92 1)">HawaiianAsian75</text>
<text transform="translate(136.70 67.30) rotate(-59) scale(0.92 1)">HawaiianEuropean75</text>
<text transform="translate(161.05 67.30) rotate(-59) scale(0.92 1)">HawaiianAsian50</text>
<text transform="translate(194.00 67.30) rotate(-59) scale(0.92 1)">HawaiianEuropean50</text>
<text transform="translate(220.30 67.30) rotate(-59) scale(0.92 1)">Papuan</text>
<text transform="translate(238.90 67.30) rotate(-59) scale(0.92 1)">Melanesian</text>
<text transform="translate(271.10 67.30) rotate(-59) scale(0.92 1)">Han</text>
<text transform="translate(298.10 67.30) rotate(-59) scale(0.92 1)">She</text>
<text transform="translate(308.25 67.30) rotate(-59) scale(0.92 1)">Cambodian</text>
<text transform="translate(327.95 67.30) rotate(-59) scale(0.92 1)">Japanese</text>
<text transform="translate(347.45 67.30) rotate(-59) scale(0.92 1)">Yi</text>
<text transform="translate(365.20 67.30) rotate(-59) scale(0.92 1)">Yakut</text>
<text transform="translate(390.65 67.30) rotate(-59) scale(0.92 1)">Sindhi</text>
<text transform="translate(429.30 67.30) rotate(-59) scale(0.92 1)">Palestinian</text>
<text transform="translate(467.80 67.30) rotate(-59) scale(0.92 1)">Russian</text>
<text transform="translate(494.75 67.30) rotate(-59) scale(0.92 1)">Sardinian</text>
<text transform="translate(513.00 67.30) rotate(-59) scale(0.92 1)">Tuscan</text>
<text transform="translate(523.90 67.30) rotate(-59) scale(0.92 1)">Italian</text>
<text transform="translate(545.20 67.30) rotate(-59) scale(0.92 1)">French</text>
<text transform="translate(566.45 67.30) rotate(-59) scale(0.92 1)">Colombian</text>
<text transform="translate(586.05 67.30) rotate(-59) scale(0.92 1)">Maya</text>
<text transform="translate(611.45 67.30) rotate(-59) scale(0.92 1)">Pima</text>
<text transform="translate(636.35 67.30) rotate(-59) scale(0.92 1)">Yoruba</text>
<text transform="translate(664.20 67.30) rotate(-59) scale(0.92 1)">Biakapygmy</text>
<text transform="translate(683.10 67.30) rotate(-59) scale(0.92 1)">San</text>
<text transform="translate(81.25 224.50) rotate(-59) scale(0.92 1)">Hawaiian100</text>
<text transform="translate(114.55 224.50) rotate(-59) scale(0.92 1)">HawaiianAsian75</text>
<text transform="translate(136.70 224.50) rotate(-59) scale(0.92 1)">HawaiianEuropean75</text>
<text transform="translate(161.05 224.50) rotate(-59) scale(0.92 1)">HawaiianAsian50</text>
<text transform="translate(194.00 224.50) rotate(-59) scale(0.92 1)">HawaiianEuropean50</text>
<text transform="translate(220.30 224.50) rotate(-59) scale(0.92 1)">Papuan</text>
<text transform="translate(238.90 224.50) rotate(-59) scale(0.92 1)">Melanesian</text>
<text transform="translate(271.10 224.50) rotate(-59) scale(0.92 1)">Han</text>
<text transform="translate(298.10 224.50) rotate(-59) scale(0.92 1)">She</text>
<text transform="translate(308.25 224.50) rotate(-59) scale(0.92 1)">Cambodian</text>
<text transform="translate(327.95 224.50) rotate(-59) scale(0.92 1)">Japanese</text>
<text transform="translate(347.45 224.50) rotate(-59) scale(0.92 1)">Yi</text>
<text transform="translate(365.20 224.50) rotate(-59) scale(0.92 1)">Yakut</text>
<text transform="translate(390.65 224.50) rotate(-59) scale(0.92 1)">Sindhi</text>
<text transform="translate(429.30 224.50) rotate(-59) scale(0.92 1)">Palestinian</text>
<text transform="translate(467.80 224.50) rotate(-59) scale(0.92 1)">Russian</text>
<text transform="translate(494.75 224.50) rotate(-59) scale(0.92 1)">Sardinian</text>
<text transform="translate(513.00 224.50) rotate(-59) scale(0.92 1)">Tuscan</text>
<text transform="translate(523.90 224.50) rotate(-59) scale(0.92 1)">Italian</text>
<text transform="translate(545.20 224.50) rotate(-59) scale(0.92 1)">French</text>
<text transform="translate(566.45 224.50) rotate(-59) scale(0.92 1)">Colombian</text>
<text transform="translate(586.05 224.50) rotate(-59) scale(0.92 1)">Maya</text>
<text transform="translate(611.45 224.50) rotate(-59) scale(0.92 1)">Pima</text>
<text transform="translate(636.35 224.50) rotate(-59) scale(0.92 1)">Yoruba</text>
<text transform="translate(664.20 224.50) rotate(-59) scale(0.92 1)">Biakapygmy</text>
<text transform="translate(683.10 224.50) rotate(-59) scale(0.92 1)">San</text>
</g>
<g font-family="Liberation Sans, sans-serif" fill="#111">
<text transform="translate(0.9 15.5) scale(0.86 1)" font-size="18.8">a</text>
<text transform="translate(11.7 16.6) scale(1 1.13)" font-size="19">)</text>
<text transform="translate(7 38.5) scale(1.035 1)" font-size="16.8">K=5</text>
<text transform="translate(0.6 172.5) scale(0.95 1)" font-size="21.5">b</text>
<text transform="translate(12.6 172.4) scale(1 1.11)" font-size="19">)</text>
<text transform="translate(7 193.8) scale(1.035 1)" font-size="16.8">K=6</text>
</g>
</svg>
</body></html>
